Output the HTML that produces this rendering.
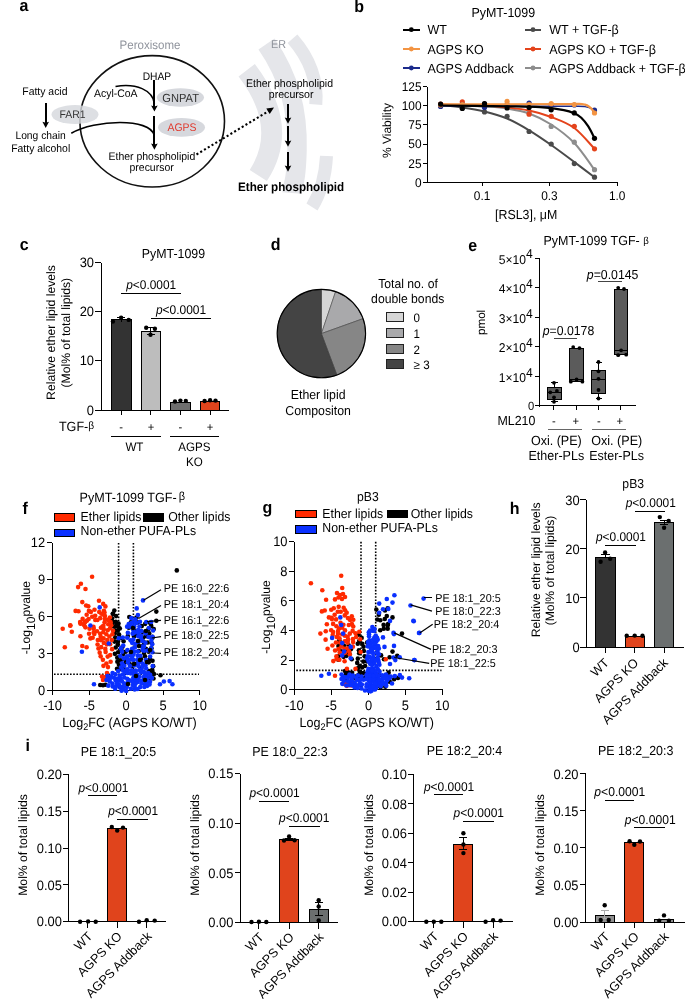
<!DOCTYPE html>
<html><head><meta charset="utf-8"><style>
html,body{margin:0;padding:0;background:#fff;}
svg{display:block;text-rendering:geometricPrecision;will-change:transform;font-family:"Liberation Sans",sans-serif;}
</style></head><body>
<svg width="685" height="999" viewBox="0 0 685 999">
<rect width="685" height="999" fill="#fff"/>
<text transform="translate(19.50,10.90) scale(1,1.06)" font-size="16.00" font-weight="bold">a</text>
<path d="M246.7,70.3 Q290,127 258.3,175.5" fill="none" stroke="#e5e6ea" stroke-width="20.5"/>
<path d="M266.5,44 C290,78 298,112 297,150 S 293,180 292,193" fill="none" stroke="#e5e6ea" stroke-width="19.5"/>
<path d="M292.5,38.7 Q318.8,68.7 315.8,104.5" fill="none" stroke="#e5e6ea" stroke-width="13"/>
<path d="M326.5,156 Q325,186 312,207" fill="none" stroke="#e5e6ea" stroke-width="13"/>
<text transform="translate(271.00,47.59) scale(1,1.06)" font-size="10.80" fill="#8f939c">ER</text>
<text transform="translate(119.60,48.65) scale(1,1.06)" font-size="11.52" fill="#8f939c">Peroxisome</text>
<ellipse cx="152.2" cy="121.3" rx="72.3" ry="65.7" fill="none" stroke="#111" stroke-width="1.6"/>
<ellipse cx="75" cy="114.5" rx="23.5" ry="9.5" fill="#d6d8dd" fill-opacity="0.82"/>
<ellipse cx="180.4" cy="97.5" rx="23.6" ry="9.2" fill="#d6d8dd"/>
<ellipse cx="181.5" cy="127.4" rx="23.5" ry="9.4" fill="#d6d8dd"/>
<text transform="translate(59.50,117.96) scale(1,1.06)" font-size="10.44" fill="#333">FAR1</text>
<text transform="translate(162.30,101.61) scale(1,1.06)" font-size="11.13" fill="#333">GNPAT</text>
<text transform="translate(167.50,131.06) scale(1,1.06)" font-size="10.44" fill="#e03a2e">AGPS</text>
<text transform="translate(142.70,79.69) scale(1,1.06)" font-size="10.26">DHAP</text>
<text transform="translate(94.00,97.16) scale(1,1.06)" font-size="10.44">Acyl-CoA</text>
<text transform="translate(22.30,95.15) scale(1,1.06)" font-size="10.43">Fatty acid</text>
<text transform="translate(15.40,139.21) scale(1,1.06)" font-size="10.30">Long chain</text>
<text transform="translate(11.20,151.75) scale(1,1.06)" font-size="10.41">Fatty alcohol</text>
<text transform="translate(108.50,159.77) scale(1,1.06)" font-size="10.48">Ether phospholipid</text>
<text transform="translate(129.50,171.22) scale(1,1.06)" font-size="10.47">precursor</text>
<line x1="45.70" y1="103.00" x2="45.70" y2="123.30" stroke="#000" stroke-width="1.85" shape-rendering="crispEdges"/>
<path d="M42.40,121.80 L45.70,122.80 L49.00,121.80 L45.70,128.00 Z" fill="#000" stroke="none" stroke-width="1.0"/>
<line x1="154.40" y1="80.00" x2="154.40" y2="106.90" stroke="#000" stroke-width="1.85" shape-rendering="crispEdges"/>
<path d="M151.10,105.40 L154.40,106.40 L157.70,105.40 L154.40,111.60 Z" fill="#000" stroke="none" stroke-width="1.0"/>
<line x1="154.40" y1="116.00" x2="154.40" y2="145.00" stroke="#000" stroke-width="1.85" shape-rendering="crispEdges"/>
<path d="M151.10,143.50 L154.40,144.50 L157.70,143.50 L154.40,149.70 Z" fill="#000" stroke="none" stroke-width="1.0"/>
<path d="M115.5,86.5 C136,83 153,90 154.4,104" fill="none" stroke="#000" stroke-width="1.5"/>
<path d="M71.3,133.3 C95,119.5 150,117.5 154.4,135.5" fill="none" stroke="#000" stroke-width="1.6"/>
<line x1="196.50" y1="154.50" x2="268.50" y2="111.20" stroke="#000" stroke-width="2.1" stroke-dasharray="2.1,2.3"/>
<path d="M274,107.6 L269.72,114.05 L266.30,108.40 Z" fill="#000" stroke="none" stroke-width="1.0"/>
<text transform="translate(246.00,86.78) scale(1,1.06)" font-size="10.50">Ether phospholipid</text>
<text transform="translate(268.80,97.75) scale(1,1.06)" font-size="10.58">precursor</text>
<line x1="288.00" y1="103.70" x2="288.00" y2="119.10" stroke="#000" stroke-width="1.85" shape-rendering="crispEdges"/>
<path d="M284.70,117.60 L288.00,118.60 L291.30,117.60 L288.00,123.80 Z" fill="#000" stroke="none" stroke-width="1.0"/>
<line x1="288.00" y1="126.40" x2="288.00" y2="142.10" stroke="#000" stroke-width="1.85" shape-rendering="crispEdges"/>
<path d="M284.70,140.60 L288.00,141.60 L291.30,140.60 L288.00,146.80 Z" fill="#000" stroke="none" stroke-width="1.0"/>
<line x1="288.00" y1="152.00" x2="288.00" y2="167.10" stroke="#000" stroke-width="1.85" shape-rendering="crispEdges"/>
<path d="M284.70,165.60 L288.00,166.60 L291.30,165.60 L288.00,171.80 Z" fill="#000" stroke="none" stroke-width="1.0"/>
<text transform="translate(238.00,190.70) scale(1,1.06)" font-size="11.67" font-weight="bold">Ether phospholipid</text>
<text transform="translate(354.30,11.80) scale(1,1.06)" font-size="16.00" font-weight="bold">b</text>
<text transform="translate(471.40,17.49) scale(1,1.06)" font-size="12.48">PyMT-1099</text>
<line x1="403.00" y1="29.70" x2="419.60" y2="29.70" stroke="#000000" stroke-width="2.2" shape-rendering="crispEdges"/>
<circle cx="411.30" cy="29.70" r="2.4" fill="#000000"/>
<text transform="translate(427.50,34.20) scale(1,1.06)" font-size="12.50">WT</text>
<line x1="403.00" y1="49.00" x2="419.60" y2="49.00" stroke="#f39443" stroke-width="2.2" shape-rendering="crispEdges"/>
<circle cx="411.30" cy="49.00" r="2.4" fill="#f39443"/>
<text transform="translate(427.50,53.50) scale(1,1.06)" font-size="12.50">AGPS KO</text>
<line x1="403.00" y1="68.00" x2="419.60" y2="68.00" stroke="#1b2b8c" stroke-width="2.2" shape-rendering="crispEdges"/>
<circle cx="411.30" cy="68.00" r="2.4" fill="#1b2b8c"/>
<text transform="translate(427.50,72.50) scale(1,1.06)" font-size="12.50">AGPS Addback</text>
<line x1="524.70" y1="29.70" x2="541.30" y2="29.70" stroke="#4a4a4a" stroke-width="2.2" shape-rendering="crispEdges"/>
<circle cx="533.00" cy="29.70" r="2.4" fill="#4a4a4a"/>
<text transform="translate(549.20,34.20) scale(1,1.06)" font-size="12.50">WT + TGF-β</text>
<line x1="524.70" y1="49.00" x2="541.30" y2="49.00" stroke="#e4431b" stroke-width="2.2" shape-rendering="crispEdges"/>
<circle cx="533.00" cy="49.00" r="2.4" fill="#e4431b"/>
<text transform="translate(549.20,53.50) scale(1,1.06)" font-size="12.50">AGPS KO + TGF-β</text>
<line x1="524.70" y1="68.00" x2="541.30" y2="68.00" stroke="#8d8d8d" stroke-width="2.2" shape-rendering="crispEdges"/>
<circle cx="533.00" cy="68.00" r="2.4" fill="#8d8d8d"/>
<text transform="translate(549.20,72.50) scale(1,1.06)" font-size="12.50">AGPS Addback + TGF-β</text>
<line x1="427.20" y1="86.70" x2="427.20" y2="182.90" stroke="#000" stroke-width="1.0" shape-rendering="crispEdges"/>
<line x1="426.60" y1="182.40" x2="617.80" y2="182.40" stroke="#000" stroke-width="1.0" shape-rendering="crispEdges"/>
<line x1="423.20" y1="182.40" x2="427.20" y2="182.40" stroke="#000" stroke-width="1.0" shape-rendering="crispEdges"/>
<text transform="translate(421.60,186.68) scale(1,1.06)" font-size="11.90" text-anchor="end">0</text>
<line x1="423.20" y1="163.26" x2="427.20" y2="163.26" stroke="#000" stroke-width="1.0" shape-rendering="crispEdges"/>
<text transform="translate(421.60,167.54) scale(1,1.06)" font-size="11.90" text-anchor="end">25</text>
<line x1="423.20" y1="144.12" x2="427.20" y2="144.12" stroke="#000" stroke-width="1.0" shape-rendering="crispEdges"/>
<text transform="translate(421.60,148.40) scale(1,1.06)" font-size="11.90" text-anchor="end">50</text>
<line x1="423.20" y1="124.98" x2="427.20" y2="124.98" stroke="#000" stroke-width="1.0" shape-rendering="crispEdges"/>
<text transform="translate(421.60,129.26) scale(1,1.06)" font-size="11.90" text-anchor="end">75</text>
<line x1="423.20" y1="105.84" x2="427.20" y2="105.84" stroke="#000" stroke-width="1.0" shape-rendering="crispEdges"/>
<text transform="translate(421.60,110.12) scale(1,1.06)" font-size="11.90" text-anchor="end">100</text>
<line x1="423.20" y1="86.70" x2="427.20" y2="86.70" stroke="#000" stroke-width="1.0" shape-rendering="crispEdges"/>
<text transform="translate(421.60,90.98) scale(1,1.06)" font-size="11.90" text-anchor="end">125</text>
<line x1="482.10" y1="182.40" x2="482.10" y2="185.90" stroke="#000" stroke-width="1.0" shape-rendering="crispEdges"/>
<text transform="translate(482.10,199.58) scale(1,1.06)" font-size="11.90" text-anchor="middle">0.1</text>
<line x1="549.40" y1="182.40" x2="549.40" y2="185.90" stroke="#000" stroke-width="1.0" shape-rendering="crispEdges"/>
<text transform="translate(549.40,199.58) scale(1,1.06)" font-size="11.90" text-anchor="middle">0.3</text>
<line x1="617.20" y1="182.40" x2="617.20" y2="185.90" stroke="#000" stroke-width="1.0" shape-rendering="crispEdges"/>
<text transform="translate(617.20,199.58) scale(1,1.06)" font-size="11.90" text-anchor="middle">1.0</text>
<text x="0.00" y="0.00" font-size="12.00" text-anchor="middle" transform="translate(390.6,130.5) rotate(-90)">% Viability</text>
<path d="M440.6,104.5 C447.9,104.8 473.4,105.8 484.5,106.5 C495.6,107.2 499.7,107.3 507.1,108.5 C514.5,109.7 521.8,110.8 529.1,113.5 C536.5,116.2 543.7,119.6 551.2,124.5 C558.7,129.4 567.1,135.5 574.3,143.0 C581.5,150.5 591.1,165.2 594.5,169.7" fill="none" stroke="#8d8d8d" stroke-width="2.0" stroke-linecap="round"/>
<circle cx="440.60" cy="104.50" r="2.6" fill="#8d8d8d"/>
<circle cx="462.30" cy="105.50" r="2.6" fill="#8d8d8d"/>
<circle cx="484.50" cy="103.50" r="2.6" fill="#8d8d8d"/>
<circle cx="507.10" cy="106.00" r="2.6" fill="#8d8d8d"/>
<circle cx="529.10" cy="112.40" r="2.6" fill="#8d8d8d"/>
<circle cx="551.20" cy="126.40" r="2.6" fill="#8d8d8d"/>
<circle cx="574.30" cy="142.20" r="2.6" fill="#8d8d8d"/>
<circle cx="594.50" cy="169.70" r="2.6" fill="#8d8d8d"/>
<path d="M440.6,105.0 C444.2,105.4 455.0,106.3 462.3,107.4 C469.6,108.5 477.0,109.7 484.5,111.5 C492.0,113.3 499.7,115.4 507.1,118.5 C514.5,121.6 521.8,125.9 529.1,130.3 C536.5,134.7 543.7,139.7 551.2,145.0 C558.7,150.3 567.1,156.6 574.3,162.0 C581.5,167.4 591.1,174.7 594.5,177.2" fill="none" stroke="#4a4a4a" stroke-width="2.0" stroke-linecap="round"/>
<circle cx="440.60" cy="105.00" r="2.6" fill="#4a4a4a"/>
<circle cx="462.30" cy="108.00" r="2.6" fill="#4a4a4a"/>
<circle cx="484.50" cy="111.90" r="2.6" fill="#4a4a4a"/>
<circle cx="507.10" cy="116.30" r="2.6" fill="#4a4a4a"/>
<circle cx="529.10" cy="131.50" r="2.6" fill="#4a4a4a"/>
<circle cx="551.20" cy="144.00" r="2.6" fill="#4a4a4a"/>
<circle cx="574.30" cy="163.60" r="2.6" fill="#4a4a4a"/>
<circle cx="594.50" cy="177.20" r="2.6" fill="#4a4a4a"/>
<path d="M440.6,104.8 C447.9,104.9 473.4,105.0 484.5,105.5 C495.6,106.0 499.7,106.7 507.1,107.5 C514.5,108.3 521.8,108.9 529.1,110.5 C536.5,112.1 543.7,114.1 551.2,117.0 C558.7,119.9 567.1,122.7 574.3,128.0 C581.5,133.3 591.1,145.3 594.5,148.8" fill="none" stroke="#e4431b" stroke-width="2.0" stroke-linecap="round"/>
<circle cx="440.60" cy="104.00" r="2.6" fill="#e4431b"/>
<circle cx="462.30" cy="101.80" r="2.6" fill="#e4431b"/>
<circle cx="484.50" cy="104.50" r="2.6" fill="#e4431b"/>
<circle cx="507.10" cy="106.50" r="2.6" fill="#e4431b"/>
<circle cx="529.10" cy="114.20" r="2.6" fill="#e4431b"/>
<circle cx="551.20" cy="116.30" r="2.6" fill="#e4431b"/>
<circle cx="574.30" cy="126.30" r="2.6" fill="#e4431b"/>
<circle cx="594.50" cy="148.80" r="2.6" fill="#e4431b"/>
<path d="M440.6,106.0 C460.5,106.0 535.9,106.2 560.0,106.3 C584.1,106.4 579.2,106.0 585.0,106.6 C590.8,107.2 592.9,109.5 594.5,110.1" fill="none" stroke="#1b2b8c" stroke-width="1.4" stroke-linecap="round"/>
<circle cx="440.60" cy="106.50" r="2.6" fill="#1b2b8c"/>
<circle cx="462.30" cy="104.50" r="2.6" fill="#1b2b8c"/>
<circle cx="484.50" cy="107.50" r="2.6" fill="#1b2b8c"/>
<circle cx="507.10" cy="104.50" r="2.6" fill="#1b2b8c"/>
<circle cx="529.10" cy="103.00" r="2.6" fill="#1b2b8c"/>
<circle cx="551.20" cy="104.50" r="2.6" fill="#1b2b8c"/>
<circle cx="574.30" cy="105.00" r="2.6" fill="#1b2b8c"/>
<circle cx="594.50" cy="110.10" r="2.6" fill="#1b2b8c"/>
<path d="M440.6,104.3 C460.5,104.3 535.9,104.2 560.0,104.2 C584.1,104.2 579.2,103.2 585.0,104.6 C590.8,106.0 592.9,111.1 594.5,112.4" fill="none" stroke="#f39443" stroke-width="2.2" stroke-linecap="round"/>
<circle cx="440.60" cy="105.00" r="2.6" fill="#f39443"/>
<circle cx="462.30" cy="104.50" r="2.6" fill="#f39443"/>
<circle cx="484.50" cy="104.50" r="2.6" fill="#f39443"/>
<circle cx="507.10" cy="101.40" r="2.6" fill="#f39443"/>
<circle cx="529.10" cy="104.50" r="2.6" fill="#f39443"/>
<circle cx="551.20" cy="103.70" r="2.6" fill="#f39443"/>
<circle cx="574.30" cy="104.50" r="2.6" fill="#f39443"/>
<circle cx="594.50" cy="113.00" r="2.6" fill="#f39443"/>
<path d="M440.6,105.5 C451.7,105.6 490.5,106.0 507.1,106.3 C523.7,106.6 530.5,106.6 540.0,107.2 C549.5,107.8 558.1,109.1 563.8,110.1 C569.5,111.1 571.4,112.0 574.3,113.3 C577.2,114.6 579.0,115.5 581.3,117.7 C583.6,119.9 586.1,123.0 588.3,126.4 C590.5,129.8 593.5,136.3 594.5,138.3" fill="none" stroke="#000000" stroke-width="2.2" stroke-linecap="round"/>
<circle cx="440.60" cy="104.00" r="2.6" fill="#000000"/>
<circle cx="462.30" cy="108.40" r="2.6" fill="#000000"/>
<circle cx="484.50" cy="103.50" r="2.6" fill="#000000"/>
<circle cx="507.10" cy="108.00" r="2.6" fill="#000000"/>
<circle cx="529.10" cy="107.50" r="2.6" fill="#000000"/>
<circle cx="551.20" cy="109.80" r="2.6" fill="#000000"/>
<circle cx="574.30" cy="112.90" r="2.6" fill="#000000"/>
<circle cx="594.50" cy="138.30" r="2.6" fill="#000000"/>
<text transform="translate(19.80,250.20) scale(1,1.06)" font-size="16.00" font-weight="bold">c</text>
<text transform="translate(141.80,258.16) scale(1,1.06)" font-size="12.40">PyMT-1099</text>
<line x1="101.00" y1="262.50" x2="101.00" y2="410.60" stroke="#000" stroke-width="1.0" shape-rendering="crispEdges"/>
<line x1="96.60" y1="410.00" x2="228.80" y2="410.00" stroke="#000" stroke-width="1.0" shape-rendering="crispEdges"/>
<line x1="95.40" y1="410.00" x2="101.00" y2="410.00" stroke="#000" stroke-width="1.0" shape-rendering="crispEdges"/>
<text transform="translate(94.00,414.64) scale(1,1.06)" font-size="12.90" text-anchor="end">0</text>
<line x1="95.40" y1="360.83" x2="101.00" y2="360.83" stroke="#000" stroke-width="1.0" shape-rendering="crispEdges"/>
<text transform="translate(94.00,365.48) scale(1,1.06)" font-size="12.90" text-anchor="end">10</text>
<line x1="95.40" y1="311.67" x2="101.00" y2="311.67" stroke="#000" stroke-width="1.0" shape-rendering="crispEdges"/>
<text transform="translate(94.00,316.31) scale(1,1.06)" font-size="12.90" text-anchor="end">20</text>
<line x1="95.40" y1="262.50" x2="101.00" y2="262.50" stroke="#000" stroke-width="1.0" shape-rendering="crispEdges"/>
<text transform="translate(94.00,267.14) scale(1,1.06)" font-size="12.90" text-anchor="end">30</text>
<rect x="111.30" y="319.70" width="19.70" height="90.30" fill="#333333" stroke="#000" stroke-width="1" shape-rendering="crispEdges"/>
<rect x="141.30" y="331.00" width="19.30" height="79.00" fill="#bdbdbd" stroke="#000" stroke-width="1" shape-rendering="crispEdges"/>
<rect x="170.70" y="402.00" width="19.30" height="8.00" fill="#6e6e6e" stroke="#000" stroke-width="1" shape-rendering="crispEdges"/>
<rect x="200.20" y="401.60" width="19.20" height="8.40" fill="#e0441c" stroke="#000" stroke-width="1" shape-rendering="crispEdges"/>
<line x1="121.20" y1="410.00" x2="121.20" y2="415.00" stroke="#000" stroke-width="1.0" shape-rendering="crispEdges"/>
<line x1="150.90" y1="410.00" x2="150.90" y2="415.00" stroke="#000" stroke-width="1.0" shape-rendering="crispEdges"/>
<line x1="180.40" y1="410.00" x2="180.40" y2="415.00" stroke="#000" stroke-width="1.0" shape-rendering="crispEdges"/>
<line x1="210.10" y1="410.00" x2="210.10" y2="415.00" stroke="#000" stroke-width="1.0" shape-rendering="crispEdges"/>
<line x1="121.10" y1="317.60" x2="121.10" y2="321.60" stroke="#000" stroke-width="1.0" shape-rendering="crispEdges"/>
<line x1="117.30" y1="317.60" x2="125.10" y2="317.60" stroke="#000" stroke-width="1.0" shape-rendering="crispEdges"/>
<circle cx="112.90" cy="321.60" r="2.2" fill="#000"/>
<circle cx="121.10" cy="317.60" r="2.2" fill="#000"/>
<circle cx="128.70" cy="319.90" r="2.2" fill="#000"/>
<line x1="150.50" y1="327.40" x2="150.50" y2="334.40" stroke="#000" stroke-width="1.0" shape-rendering="crispEdges"/>
<line x1="146.50" y1="327.40" x2="154.50" y2="327.40" stroke="#000" stroke-width="1.0" shape-rendering="crispEdges"/>
<line x1="146.50" y1="334.40" x2="154.50" y2="334.40" stroke="#000" stroke-width="1.0" shape-rendering="crispEdges"/>
<circle cx="146.20" cy="327.80" r="2.2" fill="#000"/>
<circle cx="154.90" cy="328.70" r="2.2" fill="#000"/>
<circle cx="150.50" cy="334.80" r="2.2" fill="#000"/>
<circle cx="175.00" cy="401.50" r="2.2" fill="#000"/>
<circle cx="180.40" cy="400.60" r="2.2" fill="#000"/>
<circle cx="185.80" cy="400.90" r="2.2" fill="#000"/>
<circle cx="204.60" cy="401.00" r="2.2" fill="#000"/>
<circle cx="210.10" cy="400.20" r="2.2" fill="#000"/>
<circle cx="215.50" cy="400.60" r="2.2" fill="#000"/>
<line x1="120.50" y1="293.40" x2="181.00" y2="293.40" stroke="#000" stroke-width="1.0" shape-rendering="crispEdges"/>
<line x1="150.60" y1="318.80" x2="211.00" y2="318.80" stroke="#000" stroke-width="1.0" shape-rendering="crispEdges"/>
<text transform="translate(126.20,289.30) scale(1,1.06)" font-size="11.91"><tspan font-style="italic">p</tspan>&lt;0.0001</text>
<text transform="translate(155.90,314.40) scale(1,1.06)" font-size="11.98"><tspan font-style="italic">p</tspan>&lt;0.0001</text>
<text transform="translate(58.9,431.3) scale(1,1.06)" font-size="12.6">TGF-<tspan font-size="10.2" dy="-2">β</tspan></text>
<text transform="translate(121.20,430.63) scale(1,1.06)" font-size="11.20" text-anchor="middle">-</text>
<text transform="translate(150.90,430.63) scale(1,1.06)" font-size="11.20" text-anchor="middle">+</text>
<text transform="translate(180.40,430.63) scale(1,1.06)" font-size="11.20" text-anchor="middle">-</text>
<text transform="translate(210.10,430.63) scale(1,1.06)" font-size="11.20" text-anchor="middle">+</text>
<line x1="111.20" y1="436.80" x2="160.70" y2="436.80" stroke="#000" stroke-width="1.0" shape-rendering="crispEdges"/>
<line x1="170.00" y1="436.80" x2="218.80" y2="436.80" stroke="#000" stroke-width="1.0" shape-rendering="crispEdges"/>
<text transform="translate(134.40,450.98) scale(1,1.06)" font-size="11.60" text-anchor="middle">WT</text>
<text transform="translate(194.40,450.98) scale(1,1.06)" font-size="11.60" text-anchor="middle">AGPS</text>
<text transform="translate(194.40,466.08) scale(1,1.06)" font-size="11.60" text-anchor="middle">KO</text>
<text x="0" y="0" font-size="12.20" text-anchor="middle" transform="translate(55.00,332.50) rotate(-90)">Relative ether lipid levels</text>
<text x="0" y="0" font-size="12.20" text-anchor="middle" transform="translate(70.10,332.70) rotate(-90)">(Mol% of total lipids)</text>
<text transform="translate(270.70,250.30) scale(1,1.06)" font-size="16.00" font-weight="bold">d</text>
<path d="M321.4,333.6 L321.40,289.40 A44.2,44.2 0 0 1 335.57,291.73 Z" fill="#d6d6d6" stroke="#333" stroke-width="0.5"/>
<path d="M321.4,333.6 L335.57,291.73 A44.2,44.2 0 0 1 363.01,318.70 Z" fill="#a9a9ab" stroke="#333" stroke-width="0.5"/>
<path d="M321.4,333.6 L363.01,318.70 A44.2,44.2 0 0 1 336.88,375.00 Z" fill="#868686" stroke="#333" stroke-width="0.5"/>
<path d="M321.4,333.6 L336.88,375.00 A44.2,44.2 0 1 1 321.40,289.40 Z" fill="#444444" stroke="#333" stroke-width="0.5"/>
<circle cx="321.4" cy="333.6" r="44.2" fill="none" stroke="#000" stroke-width="1.1"/>
<text transform="translate(408.00,287.89) scale(1,1.06)" font-size="12.20" text-anchor="middle">Total no. of</text>
<text transform="translate(407.70,303.29) scale(1,1.06)" font-size="12.20" text-anchor="middle">double bonds</text>
<rect x="386.60" y="312.40" width="17.00" height="9.00" fill="#d6d6d6" stroke="#222" stroke-width="1" shape-rendering="crispEdges"/>
<text transform="translate(413.60,321.58) scale(1,1.06)" font-size="11.60">0</text>
<rect x="386.60" y="328.40" width="17.00" height="9.00" fill="#a9a9ab" stroke="#222" stroke-width="1" shape-rendering="crispEdges"/>
<text transform="translate(413.60,337.58) scale(1,1.06)" font-size="11.60">1</text>
<rect x="386.60" y="344.50" width="17.00" height="9.00" fill="#868686" stroke="#222" stroke-width="1" shape-rendering="crispEdges"/>
<text transform="translate(413.60,353.68) scale(1,1.06)" font-size="11.60">2</text>
<rect x="386.60" y="359.60" width="17.00" height="9.00" fill="#444444" stroke="#222" stroke-width="1" shape-rendering="crispEdges"/>
<text transform="translate(413.60,368.78) scale(1,1.06)" font-size="11.60">≥ 3</text>
<text transform="translate(290.80,399.03) scale(1,1.06)" font-size="12.30">Ether lipid</text>
<text transform="translate(285.30,414.83) scale(1,1.06)" font-size="12.31">Compositon</text>
<text transform="translate(468.30,250.60) scale(1,1.06)" font-size="16.00" font-weight="bold">e</text>
<text transform="translate(543.4,245.3) scale(1,1.06)" font-size="12.5">PyMT-1099 TGF- <tspan font-size="9.6" dy="-1.5">β</tspan></text>
<line x1="539.00" y1="258.10" x2="539.00" y2="406.50" stroke="#000" stroke-width="1.0" shape-rendering="crispEdges"/>
<line x1="534.60" y1="405.90" x2="635.80" y2="405.90" stroke="#000" stroke-width="1.0" shape-rendering="crispEdges"/>
<line x1="534.60" y1="405.90" x2="539.00" y2="405.90" stroke="#000" stroke-width="1.0" shape-rendering="crispEdges"/>
<text transform="translate(534.30,409.93) scale(1,1.06)" font-size="11.20" text-anchor="end">0</text>
<line x1="534.60" y1="376.34" x2="539.00" y2="376.34" stroke="#000" stroke-width="1.0" shape-rendering="crispEdges"/>
<text transform="translate(532.8,381.74) scale(1,1.06)" font-size="12.1" text-anchor="end">1×10<tspan dy="-4.8">4</tspan></text>
<line x1="534.60" y1="346.78" x2="539.00" y2="346.78" stroke="#000" stroke-width="1.0" shape-rendering="crispEdges"/>
<text transform="translate(532.8,352.18) scale(1,1.06)" font-size="12.1" text-anchor="end">2×10<tspan dy="-4.8">4</tspan></text>
<line x1="534.60" y1="317.22" x2="539.00" y2="317.22" stroke="#000" stroke-width="1.0" shape-rendering="crispEdges"/>
<text transform="translate(532.8,322.62) scale(1,1.06)" font-size="12.1" text-anchor="end">3×10<tspan dy="-4.8">4</tspan></text>
<line x1="534.60" y1="287.66" x2="539.00" y2="287.66" stroke="#000" stroke-width="1.0" shape-rendering="crispEdges"/>
<text transform="translate(532.8,293.06) scale(1,1.06)" font-size="12.1" text-anchor="end">4×10<tspan dy="-4.8">4</tspan></text>
<line x1="534.60" y1="258.10" x2="539.00" y2="258.10" stroke="#000" stroke-width="1.0" shape-rendering="crispEdges"/>
<text transform="translate(532.8,263.50) scale(1,1.06)" font-size="12.1" text-anchor="end">5×10<tspan dy="-4.8">4</tspan></text>
<text x="0" y="0" font-size="11.60" text-anchor="middle" transform="translate(485.38,322.40) rotate(-90)">pmol</text>
<line x1="553.50" y1="405.90" x2="553.50" y2="409.90" stroke="#000" stroke-width="1.0" shape-rendering="crispEdges"/>
<line x1="576.30" y1="405.90" x2="576.30" y2="409.90" stroke="#000" stroke-width="1.0" shape-rendering="crispEdges"/>
<line x1="598.50" y1="405.90" x2="598.50" y2="409.90" stroke="#000" stroke-width="1.0" shape-rendering="crispEdges"/>
<line x1="620.80" y1="405.90" x2="620.80" y2="409.90" stroke="#000" stroke-width="1.0" shape-rendering="crispEdges"/>
<line x1="554.20" y1="382.80" x2="554.20" y2="387.50" stroke="#000" stroke-width="1.0" shape-rendering="crispEdges"/>
<line x1="550.90" y1="382.80" x2="557.50" y2="382.80" stroke="#000" stroke-width="1.0" shape-rendering="crispEdges"/>
<line x1="554.20" y1="399.20" x2="554.20" y2="401.80" stroke="#000" stroke-width="1.0" shape-rendering="crispEdges"/>
<line x1="550.90" y1="401.80" x2="557.50" y2="401.80" stroke="#000" stroke-width="1.0" shape-rendering="crispEdges"/>
<rect x="547.40" y="387.50" width="13.60" height="11.70" fill="#5b5b5b" stroke="#000" stroke-width="1" shape-rendering="crispEdges"/>
<line x1="547.40" y1="392.60" x2="561.00" y2="392.60" stroke="#000" stroke-width="1.0" shape-rendering="crispEdges"/>
<circle cx="550.30" cy="392.30" r="1.9" fill="#000"/>
<circle cx="556.90" cy="390.90" r="1.9" fill="#000"/>
<circle cx="554.00" cy="397.30" r="1.9" fill="#000"/>
<circle cx="554.00" cy="382.80" r="1.9" fill="#000"/>
<circle cx="554.00" cy="401.80" r="1.9" fill="#000"/>
<rect x="569.60" y="348.10" width="13.90" height="33.60" fill="#5b5b5b" stroke="#000" stroke-width="1" shape-rendering="crispEdges"/>
<line x1="569.60" y1="379.50" x2="583.50" y2="379.50" stroke="#000" stroke-width="1.0" shape-rendering="crispEdges"/>
<circle cx="573.20" cy="347.10" r="1.9" fill="#000"/>
<circle cx="579.50" cy="348.10" r="1.9" fill="#000"/>
<circle cx="570.80" cy="381.70" r="1.9" fill="#000"/>
<circle cx="576.60" cy="379.50" r="1.9" fill="#000"/>
<circle cx="582.40" cy="381.70" r="1.9" fill="#000"/>
<line x1="598.85" y1="362.00" x2="598.85" y2="370.10" stroke="#000" stroke-width="1.0" shape-rendering="crispEdges"/>
<line x1="595.55" y1="362.00" x2="602.15" y2="362.00" stroke="#000" stroke-width="1.0" shape-rendering="crispEdges"/>
<line x1="598.85" y1="393.80" x2="598.85" y2="398.50" stroke="#000" stroke-width="1.0" shape-rendering="crispEdges"/>
<line x1="595.55" y1="398.50" x2="602.15" y2="398.50" stroke="#000" stroke-width="1.0" shape-rendering="crispEdges"/>
<rect x="591.90" y="370.10" width="13.90" height="23.70" fill="#5b5b5b" stroke="#000" stroke-width="1" shape-rendering="crispEdges"/>
<line x1="591.90" y1="379.20" x2="605.80" y2="379.20" stroke="#000" stroke-width="1.0" shape-rendering="crispEdges"/>
<circle cx="598.50" cy="362.00" r="1.9" fill="#000"/>
<circle cx="598.50" cy="371.30" r="1.9" fill="#000"/>
<circle cx="598.50" cy="378.80" r="1.9" fill="#000"/>
<circle cx="598.50" cy="390.00" r="1.9" fill="#000"/>
<circle cx="598.50" cy="398.50" r="1.9" fill="#000"/>
<rect x="614.60" y="289.00" width="13.10" height="65.70" fill="#5b5b5b" stroke="#000" stroke-width="1" shape-rendering="crispEdges"/>
<line x1="614.60" y1="350.30" x2="627.70" y2="350.30" stroke="#000" stroke-width="1.0" shape-rendering="crispEdges"/>
<circle cx="618.20" cy="287.80" r="1.9" fill="#000"/>
<circle cx="624.00" cy="289.00" r="1.9" fill="#000"/>
<circle cx="618.20" cy="355.20" r="1.9" fill="#000"/>
<circle cx="621.10" cy="350.30" r="1.9" fill="#000"/>
<circle cx="626.20" cy="354.70" r="1.9" fill="#000"/>
<line x1="554.00" y1="338.60" x2="577.30" y2="338.60" stroke="#444" stroke-width="1.0" shape-rendering="crispEdges"/>
<line x1="598.00" y1="281.70" x2="622.30" y2="281.70" stroke="#444" stroke-width="1.0" shape-rendering="crispEdges"/>
<text transform="translate(542.70,335.20) scale(1,1.06)" font-size="12.27"><tspan font-style="italic">p</tspan>=0.0178</text>
<text transform="translate(586.80,278.90) scale(1,1.06)" font-size="12.31"><tspan font-style="italic">p</tspan>=0.0145</text>
<text transform="translate(495.10,218.56) scale(1,1.06)" font-size="12.39">[RSL3], μM</text>
<text transform="translate(497.40,425.37) scale(1,1.06)" font-size="12.43">ML210</text>
<text transform="translate(553.90,424.93) scale(1,1.06)" font-size="11.20" text-anchor="middle">-</text>
<text transform="translate(575.80,424.93) scale(1,1.06)" font-size="11.20" text-anchor="middle">+</text>
<text transform="translate(598.80,424.93) scale(1,1.06)" font-size="11.20" text-anchor="middle">-</text>
<text transform="translate(619.80,424.93) scale(1,1.06)" font-size="11.20" text-anchor="middle">+</text>
<line x1="548.20" y1="429.30" x2="582.40" y2="429.30" stroke="#666" stroke-width="1.0" shape-rendering="crispEdges"/>
<line x1="592.20" y1="429.30" x2="626.10" y2="429.30" stroke="#666" stroke-width="1.0" shape-rendering="crispEdges"/>
<text transform="translate(530.90,444.82) scale(1,1.06)" font-size="12.55">Oxi. (PE)</text>
<text transform="translate(528.50,459.81) scale(1,1.06)" font-size="12.53">Ether-PLs</text>
<text transform="translate(591.30,444.82) scale(1,1.06)" font-size="12.55">Oxi. (PE)</text>
<text transform="translate(589.20,459.79) scale(1,1.06)" font-size="12.48">Ester-PLs</text>
<text transform="translate(509.70,513.60) scale(1,1.06)" font-size="16.00" font-weight="bold">h</text>
<text transform="translate(633.20,487.89) scale(1,1.06)" font-size="12.20" text-anchor="middle">pB3</text>
<line x1="586.00" y1="499.90" x2="586.00" y2="647.60" stroke="#000" stroke-width="1.0" shape-rendering="crispEdges"/>
<line x1="581.60" y1="647.00" x2="684.00" y2="647.00" stroke="#000" stroke-width="1.0" shape-rendering="crispEdges"/>
<line x1="580.40" y1="647.00" x2="586.00" y2="647.00" stroke="#000" stroke-width="1.0" shape-rendering="crispEdges"/>
<text transform="translate(579.60,651.64) scale(1,1.06)" font-size="12.90" text-anchor="end">0</text>
<line x1="580.40" y1="597.97" x2="586.00" y2="597.97" stroke="#000" stroke-width="1.0" shape-rendering="crispEdges"/>
<text transform="translate(579.60,602.61) scale(1,1.06)" font-size="12.90" text-anchor="end">10</text>
<line x1="580.40" y1="548.93" x2="586.00" y2="548.93" stroke="#000" stroke-width="1.0" shape-rendering="crispEdges"/>
<text transform="translate(579.60,553.58) scale(1,1.06)" font-size="12.90" text-anchor="end">20</text>
<line x1="580.40" y1="499.90" x2="586.00" y2="499.90" stroke="#000" stroke-width="1.0" shape-rendering="crispEdges"/>
<text transform="translate(579.60,504.54) scale(1,1.06)" font-size="12.90" text-anchor="end">30</text>
<rect x="595.50" y="557.60" width="19.50" height="89.40" fill="#333333" stroke="#000" stroke-width="1" shape-rendering="crispEdges"/>
<rect x="625.30" y="636.50" width="19.20" height="10.50" fill="#e0441c" stroke="#000" stroke-width="1" shape-rendering="crispEdges"/>
<rect x="654.50" y="522.20" width="19.30" height="124.80" fill="#6b6f6f" stroke="#000" stroke-width="1" shape-rendering="crispEdges"/>
<line x1="605.10" y1="647.00" x2="605.10" y2="653.00" stroke="#000" stroke-width="1.0" shape-rendering="crispEdges"/>
<line x1="634.70" y1="647.00" x2="634.70" y2="653.00" stroke="#000" stroke-width="1.0" shape-rendering="crispEdges"/>
<line x1="664.10" y1="647.00" x2="664.10" y2="653.00" stroke="#000" stroke-width="1.0" shape-rendering="crispEdges"/>
<line x1="605.10" y1="554.90" x2="605.10" y2="558.00" stroke="#000" stroke-width="1.0" shape-rendering="crispEdges"/>
<line x1="601.20" y1="554.90" x2="609.70" y2="554.90" stroke="#000" stroke-width="1.0" shape-rendering="crispEdges"/>
<circle cx="605.10" cy="552.50" r="2.2" fill="#000"/>
<circle cx="600.60" cy="561.70" r="2.2" fill="#000"/>
<circle cx="610.20" cy="558.80" r="2.2" fill="#000"/>
<circle cx="626.70" cy="635.80" r="2.2" fill="#000"/>
<circle cx="634.70" cy="635.60" r="2.2" fill="#000"/>
<circle cx="642.50" cy="635.80" r="2.2" fill="#000"/>
<line x1="664.10" y1="520.20" x2="664.10" y2="524.80" stroke="#000" stroke-width="1.0" shape-rendering="crispEdges"/>
<line x1="660.00" y1="520.20" x2="668.20" y2="520.20" stroke="#000" stroke-width="1.0" shape-rendering="crispEdges"/>
<line x1="660.00" y1="524.80" x2="668.20" y2="524.80" stroke="#000" stroke-width="1.0" shape-rendering="crispEdges"/>
<circle cx="659.80" cy="517.10" r="2.2" fill="#000"/>
<circle cx="668.70" cy="521.00" r="2.2" fill="#000"/>
<circle cx="664.10" cy="527.70" r="2.2" fill="#000"/>
<line x1="605.10" y1="545.30" x2="635.70" y2="545.30" stroke="#000" stroke-width="1.0" shape-rendering="crispEdges"/>
<line x1="634.70" y1="511.20" x2="664.90" y2="511.20" stroke="#000" stroke-width="1.0" shape-rendering="crispEdges"/>
<text transform="translate(595.90,541.00) scale(1,1.06)" font-size="11.93"><tspan font-style="italic">p</tspan>&lt;0.0001</text>
<text transform="translate(625.70,507.00) scale(1,1.06)" font-size="11.93"><tspan font-style="italic">p</tspan>&lt;0.0001</text>
<text x="0" y="0" font-size="12.20" text-anchor="middle" transform="translate(540.10,569.80) rotate(-90)">Relative ether lipid levels</text>
<text x="0" y="0" font-size="12.20" text-anchor="middle" transform="translate(554.40,570.50) rotate(-90)">(Mol% of total lipids)</text>
<text x="0" y="0" font-size="12.6" text-anchor="end" transform="translate(609.70,663.50) rotate(-45)">WT</text>
<text x="0" y="0" font-size="12.6" text-anchor="end" transform="translate(639.30,663.50) rotate(-45)">AGPS KO</text>
<text x="0" y="0" font-size="12.6" text-anchor="end" transform="translate(668.70,663.50) rotate(-45)">AGPS Addback</text>
<text transform="translate(25.40,750.50) scale(1,1.06)" font-size="16.00" font-weight="bold">i</text>
<line x1="68.90" y1="774.50" x2="68.90" y2="922.40" stroke="#000" stroke-width="1.0" shape-rendering="crispEdges"/>
<line x1="64.50" y1="921.80" x2="165.70" y2="921.80" stroke="#000" stroke-width="1.0" shape-rendering="crispEdges"/>
<line x1="63.30" y1="921.80" x2="68.90" y2="921.80" stroke="#000" stroke-width="1.0" shape-rendering="crispEdges"/>
<text transform="translate(61.90,926.44) scale(1,1.06)" font-size="12.90" text-anchor="end">0.00</text>
<line x1="63.30" y1="884.97" x2="68.90" y2="884.97" stroke="#000" stroke-width="1.0" shape-rendering="crispEdges"/>
<text transform="translate(61.90,889.62) scale(1,1.06)" font-size="12.90" text-anchor="end">0.05</text>
<line x1="63.30" y1="848.15" x2="68.90" y2="848.15" stroke="#000" stroke-width="1.0" shape-rendering="crispEdges"/>
<text transform="translate(61.90,852.79) scale(1,1.06)" font-size="12.90" text-anchor="end">0.10</text>
<line x1="63.30" y1="811.33" x2="68.90" y2="811.33" stroke="#000" stroke-width="1.0" shape-rendering="crispEdges"/>
<text transform="translate(61.90,815.97) scale(1,1.06)" font-size="12.90" text-anchor="end">0.15</text>
<line x1="63.30" y1="774.50" x2="68.90" y2="774.50" stroke="#000" stroke-width="1.0" shape-rendering="crispEdges"/>
<text transform="translate(61.90,779.14) scale(1,1.06)" font-size="12.90" text-anchor="end">0.20</text>
<rect x="107.80" y="828.90" width="19.00" height="92.90" fill="#e0441c" stroke="#000" stroke-width="1" shape-rendering="crispEdges"/>
<line x1="87.60" y1="921.80" x2="87.60" y2="927.80" stroke="#000" stroke-width="1.0" shape-rendering="crispEdges"/>
<line x1="117.20" y1="921.80" x2="117.20" y2="927.80" stroke="#000" stroke-width="1.0" shape-rendering="crispEdges"/>
<line x1="146.90" y1="921.80" x2="146.90" y2="927.80" stroke="#000" stroke-width="1.0" shape-rendering="crispEdges"/>
<circle cx="80.10" cy="921.70" r="2.2" fill="#000"/>
<circle cx="88.10" cy="921.40" r="2.2" fill="#000"/>
<circle cx="95.70" cy="921.70" r="2.2" fill="#000"/>
<circle cx="111.80" cy="827.00" r="2.2" fill="#000"/>
<circle cx="117.20" cy="830.50" r="2.2" fill="#000"/>
<circle cx="123.00" cy="827.60" r="2.2" fill="#000"/>
<circle cx="139.00" cy="921.70" r="2.2" fill="#000"/>
<circle cx="146.70" cy="920.30" r="2.2" fill="#000"/>
<circle cx="154.70" cy="920.60" r="2.2" fill="#000"/>
<line x1="87.60" y1="795.50" x2="117.20" y2="795.50" stroke="#000" stroke-width="1.0" shape-rendering="crispEdges"/>
<text transform="translate(78.50,791.80) scale(1,1.06)" font-size="11.89"><tspan font-style="italic">p</tspan>&lt;0.0001</text>
<line x1="117.20" y1="819.70" x2="147.70" y2="819.70" stroke="#000" stroke-width="1.0" shape-rendering="crispEdges"/>
<text transform="translate(108.20,815.30) scale(1,1.06)" font-size="11.86"><tspan font-style="italic">p</tspan>&lt;0.0001</text>
<text transform="translate(80.80,756.08) scale(1,1.06)" font-size="12.44">PE 18:1_20:5</text>
<text x="0" y="0" font-size="12.20" text-anchor="middle" transform="translate(27.10,845.00) rotate(-90)">Mol% of total lipids</text>
<text x="0" y="0" font-size="12.6" text-anchor="end" transform="translate(93.10,937.10) rotate(-45)">WT</text>
<text x="0" y="0" font-size="12.6" text-anchor="end" transform="translate(122.70,937.10) rotate(-45)">AGPS KO</text>
<text x="0" y="0" font-size="12.6" text-anchor="end" transform="translate(152.40,937.10) rotate(-45)">AGPS Addback</text>
<line x1="240.30" y1="773.70" x2="240.30" y2="923.10" stroke="#000" stroke-width="1.0" shape-rendering="crispEdges"/>
<line x1="235.90" y1="922.50" x2="338.40" y2="922.50" stroke="#000" stroke-width="1.0" shape-rendering="crispEdges"/>
<line x1="234.70" y1="922.50" x2="240.30" y2="922.50" stroke="#000" stroke-width="1.0" shape-rendering="crispEdges"/>
<text transform="translate(233.30,927.14) scale(1,1.06)" font-size="12.90" text-anchor="end">0.00</text>
<line x1="234.70" y1="872.90" x2="240.30" y2="872.90" stroke="#000" stroke-width="1.0" shape-rendering="crispEdges"/>
<text transform="translate(233.30,877.54) scale(1,1.06)" font-size="12.90" text-anchor="end">0.05</text>
<line x1="234.70" y1="823.30" x2="240.30" y2="823.30" stroke="#000" stroke-width="1.0" shape-rendering="crispEdges"/>
<text transform="translate(233.30,827.94) scale(1,1.06)" font-size="12.90" text-anchor="end">0.10</text>
<line x1="234.70" y1="773.70" x2="240.30" y2="773.70" stroke="#000" stroke-width="1.0" shape-rendering="crispEdges"/>
<text transform="translate(233.30,778.34) scale(1,1.06)" font-size="12.90" text-anchor="end">0.15</text>
<rect x="279.70" y="839.10" width="19.00" height="83.40" fill="#e0441c" stroke="#000" stroke-width="1" shape-rendering="crispEdges"/>
<rect x="309.30" y="909.20" width="19.10" height="13.30" fill="#6b6f6f" stroke="#000" stroke-width="1" shape-rendering="crispEdges"/>
<line x1="258.90" y1="922.50" x2="258.90" y2="928.50" stroke="#000" stroke-width="1.0" shape-rendering="crispEdges"/>
<line x1="289.10" y1="922.50" x2="289.10" y2="928.50" stroke="#000" stroke-width="1.0" shape-rendering="crispEdges"/>
<line x1="318.70" y1="922.50" x2="318.70" y2="928.50" stroke="#000" stroke-width="1.0" shape-rendering="crispEdges"/>
<line x1="318.70" y1="902.50" x2="318.70" y2="915.90" stroke="#000" stroke-width="1.0" shape-rendering="crispEdges"/>
<line x1="314.70" y1="902.50" x2="322.70" y2="902.50" stroke="#000" stroke-width="1.0" shape-rendering="crispEdges"/>
<line x1="314.70" y1="915.90" x2="322.70" y2="915.90" stroke="#000" stroke-width="1.0" shape-rendering="crispEdges"/>
<line x1="289.10" y1="838.00" x2="289.10" y2="840.00" stroke="#000" stroke-width="1.0" shape-rendering="crispEdges"/>
<line x1="285.10" y1="838.00" x2="293.10" y2="838.00" stroke="#000" stroke-width="1.0" shape-rendering="crispEdges"/>
<line x1="285.10" y1="840.00" x2="293.10" y2="840.00" stroke="#000" stroke-width="1.0" shape-rendering="crispEdges"/>
<circle cx="251.50" cy="922.00" r="2.2" fill="#000"/>
<circle cx="258.90" cy="921.70" r="2.2" fill="#000"/>
<circle cx="266.30" cy="922.00" r="2.2" fill="#000"/>
<circle cx="284.00" cy="840.50" r="2.2" fill="#000"/>
<circle cx="289.10" cy="836.50" r="2.2" fill="#000"/>
<circle cx="294.60" cy="840.30" r="2.2" fill="#000"/>
<circle cx="318.70" cy="900.30" r="2.2" fill="#000"/>
<circle cx="318.70" cy="906.50" r="2.2" fill="#000"/>
<circle cx="318.70" cy="920.50" r="2.2" fill="#000"/>
<line x1="258.90" y1="801.40" x2="289.10" y2="801.40" stroke="#000" stroke-width="1.0" shape-rendering="crispEdges"/>
<text transform="translate(249.40,796.70) scale(1,1.06)" font-size="12.00"><tspan font-style="italic">p</tspan>&lt;0.0001</text>
<line x1="289.10" y1="826.20" x2="319.60" y2="826.20" stroke="#000" stroke-width="1.0" shape-rendering="crispEdges"/>
<text transform="translate(279.00,822.00) scale(1,1.06)" font-size="12.00"><tspan font-style="italic">p</tspan>&lt;0.0001</text>
<text transform="translate(252.20,756.08) scale(1,1.06)" font-size="12.44">PE 18:0_22:3</text>
<text x="0" y="0" font-size="12.20" text-anchor="middle" transform="translate(198.50,845.00) rotate(-90)">Mol% of total lipids</text>
<text x="0" y="0" font-size="12.6" text-anchor="end" transform="translate(264.40,937.80) rotate(-45)">WT</text>
<text x="0" y="0" font-size="12.6" text-anchor="end" transform="translate(294.60,937.80) rotate(-45)">AGPS KO</text>
<text x="0" y="0" font-size="12.6" text-anchor="end" transform="translate(324.20,937.80) rotate(-45)">AGPS Addback</text>
<line x1="413.80" y1="774.50" x2="413.80" y2="922.40" stroke="#000" stroke-width="1.0" shape-rendering="crispEdges"/>
<line x1="409.40" y1="921.80" x2="512.50" y2="921.80" stroke="#000" stroke-width="1.0" shape-rendering="crispEdges"/>
<line x1="408.20" y1="921.80" x2="413.80" y2="921.80" stroke="#000" stroke-width="1.0" shape-rendering="crispEdges"/>
<text transform="translate(406.80,926.44) scale(1,1.06)" font-size="12.90" text-anchor="end">0.00</text>
<line x1="408.20" y1="892.34" x2="413.80" y2="892.34" stroke="#000" stroke-width="1.0" shape-rendering="crispEdges"/>
<text transform="translate(406.80,896.98) scale(1,1.06)" font-size="12.90" text-anchor="end">0.02</text>
<line x1="408.20" y1="862.88" x2="413.80" y2="862.88" stroke="#000" stroke-width="1.0" shape-rendering="crispEdges"/>
<text transform="translate(406.80,867.52) scale(1,1.06)" font-size="12.90" text-anchor="end">0.04</text>
<line x1="408.20" y1="833.42" x2="413.80" y2="833.42" stroke="#000" stroke-width="1.0" shape-rendering="crispEdges"/>
<text transform="translate(406.80,838.06) scale(1,1.06)" font-size="12.90" text-anchor="end">0.06</text>
<line x1="408.20" y1="803.96" x2="413.80" y2="803.96" stroke="#000" stroke-width="1.0" shape-rendering="crispEdges"/>
<text transform="translate(406.80,808.60) scale(1,1.06)" font-size="12.90" text-anchor="end">0.08</text>
<line x1="408.20" y1="774.50" x2="413.80" y2="774.50" stroke="#000" stroke-width="1.0" shape-rendering="crispEdges"/>
<text transform="translate(406.80,779.14) scale(1,1.06)" font-size="12.90" text-anchor="end">0.10</text>
<rect x="453.70" y="844.50" width="19.20" height="77.30" fill="#e0441c" stroke="#000" stroke-width="1" shape-rendering="crispEdges"/>
<line x1="433.80" y1="921.80" x2="433.80" y2="927.80" stroke="#000" stroke-width="1.0" shape-rendering="crispEdges"/>
<line x1="463.40" y1="921.80" x2="463.40" y2="927.80" stroke="#000" stroke-width="1.0" shape-rendering="crispEdges"/>
<line x1="493.10" y1="921.80" x2="493.10" y2="927.80" stroke="#000" stroke-width="1.0" shape-rendering="crispEdges"/>
<line x1="463.40" y1="837.80" x2="463.40" y2="849.10" stroke="#000" stroke-width="1.0" shape-rendering="crispEdges"/>
<line x1="459.40" y1="837.80" x2="467.40" y2="837.80" stroke="#000" stroke-width="1.0" shape-rendering="crispEdges"/>
<line x1="459.40" y1="849.10" x2="467.40" y2="849.10" stroke="#000" stroke-width="1.0" shape-rendering="crispEdges"/>
<circle cx="426.30" cy="921.70" r="2.2" fill="#000"/>
<circle cx="433.80" cy="921.70" r="2.2" fill="#000"/>
<circle cx="441.30" cy="921.70" r="2.2" fill="#000"/>
<circle cx="463.40" cy="833.20" r="2.2" fill="#000"/>
<circle cx="463.40" cy="844.50" r="2.2" fill="#000"/>
<circle cx="463.40" cy="853.10" r="2.2" fill="#000"/>
<circle cx="485.60" cy="921.70" r="2.2" fill="#000"/>
<circle cx="493.10" cy="920.30" r="2.2" fill="#000"/>
<circle cx="500.60" cy="920.60" r="2.2" fill="#000"/>
<line x1="433.80" y1="794.70" x2="463.40" y2="794.70" stroke="#000" stroke-width="1.0" shape-rendering="crispEdges"/>
<text transform="translate(423.90,790.50) scale(1,1.06)" font-size="12.00"><tspan font-style="italic">p</tspan>&lt;0.0001</text>
<line x1="463.40" y1="821.60" x2="493.60" y2="821.60" stroke="#000" stroke-width="1.0" shape-rendering="crispEdges"/>
<text transform="translate(453.60,817.40) scale(1,1.06)" font-size="12.00"><tspan font-style="italic">p</tspan>&lt;0.0001</text>
<text transform="translate(426.80,754.68) scale(1,1.06)" font-size="12.44">PE 18:2_20:4</text>
<text x="0" y="0" font-size="12.20" text-anchor="middle" transform="translate(373.30,845.00) rotate(-90)">Mol% of total lipids</text>
<text x="0" y="0" font-size="12.6" text-anchor="end" transform="translate(439.30,937.10) rotate(-45)">WT</text>
<text x="0" y="0" font-size="12.6" text-anchor="end" transform="translate(468.90,937.10) rotate(-45)">AGPS KO</text>
<text x="0" y="0" font-size="12.6" text-anchor="end" transform="translate(498.60,937.10) rotate(-45)">AGPS Addback</text>
<line x1="585.50" y1="773.90" x2="585.50" y2="922.60" stroke="#000" stroke-width="1.0" shape-rendering="crispEdges"/>
<line x1="581.10" y1="922.00" x2="684.50" y2="922.00" stroke="#000" stroke-width="1.0" shape-rendering="crispEdges"/>
<line x1="579.90" y1="922.00" x2="585.50" y2="922.00" stroke="#000" stroke-width="1.0" shape-rendering="crispEdges"/>
<text transform="translate(578.50,926.64) scale(1,1.06)" font-size="12.90" text-anchor="end">0.00</text>
<line x1="579.90" y1="884.98" x2="585.50" y2="884.98" stroke="#000" stroke-width="1.0" shape-rendering="crispEdges"/>
<text transform="translate(578.50,889.62) scale(1,1.06)" font-size="12.90" text-anchor="end">0.05</text>
<line x1="579.90" y1="847.95" x2="585.50" y2="847.95" stroke="#000" stroke-width="1.0" shape-rendering="crispEdges"/>
<text transform="translate(578.50,852.59) scale(1,1.06)" font-size="12.90" text-anchor="end">0.10</text>
<line x1="579.90" y1="810.92" x2="585.50" y2="810.92" stroke="#000" stroke-width="1.0" shape-rendering="crispEdges"/>
<text transform="translate(578.50,815.57) scale(1,1.06)" font-size="12.90" text-anchor="end">0.15</text>
<line x1="579.90" y1="773.90" x2="585.50" y2="773.90" stroke="#000" stroke-width="1.0" shape-rendering="crispEdges"/>
<text transform="translate(578.50,778.54) scale(1,1.06)" font-size="12.90" text-anchor="end">0.20</text>
<rect x="595.30" y="915.40" width="18.80" height="6.60" fill="#8e8e8e" stroke="#000" stroke-width="1" shape-rendering="crispEdges"/>
<rect x="624.90" y="842.40" width="19.00" height="79.60" fill="#e0441c" stroke="#000" stroke-width="1" shape-rendering="crispEdges"/>
<rect x="654.60" y="919.20" width="18.80" height="2.80" fill="#8e8e8e" stroke="#000" stroke-width="1" shape-rendering="crispEdges"/>
<line x1="604.70" y1="922.00" x2="604.70" y2="928.00" stroke="#000" stroke-width="1.0" shape-rendering="crispEdges"/>
<line x1="634.30" y1="922.00" x2="634.30" y2="928.00" stroke="#000" stroke-width="1.0" shape-rendering="crispEdges"/>
<line x1="664.00" y1="922.00" x2="664.00" y2="928.00" stroke="#000" stroke-width="1.0" shape-rendering="crispEdges"/>
<line x1="604.70" y1="910.00" x2="604.70" y2="918.00" stroke="#aaa" stroke-width="1.0" shape-rendering="crispEdges"/>
<line x1="600.70" y1="910.00" x2="608.70" y2="910.00" stroke="#aaa" stroke-width="1.0" shape-rendering="crispEdges"/>
<line x1="600.70" y1="918.00" x2="608.70" y2="918.00" stroke="#aaa" stroke-width="1.0" shape-rendering="crispEdges"/>
<circle cx="604.70" cy="905.20" r="2.2" fill="#000"/>
<circle cx="600.70" cy="920.00" r="2.2" fill="#000"/>
<circle cx="608.70" cy="920.00" r="2.2" fill="#000"/>
<circle cx="629.60" cy="841.20" r="2.2" fill="#000"/>
<circle cx="634.30" cy="844.80" r="2.2" fill="#000"/>
<circle cx="640.00" cy="841.50" r="2.2" fill="#000"/>
<circle cx="659.20" cy="920.80" r="2.2" fill="#000"/>
<circle cx="664.00" cy="915.40" r="2.2" fill="#000"/>
<circle cx="668.90" cy="920.80" r="2.2" fill="#000"/>
<line x1="604.70" y1="800.90" x2="634.30" y2="800.90" stroke="#000" stroke-width="1.0" shape-rendering="crispEdges"/>
<text transform="translate(594.30,796.40) scale(1,1.06)" font-size="12.15"><tspan font-style="italic">p</tspan>&lt;0.0001</text>
<line x1="634.30" y1="827.50" x2="664.50" y2="827.50" stroke="#000" stroke-width="1.0" shape-rendering="crispEdges"/>
<text transform="translate(624.80,823.60) scale(1,1.06)" font-size="12.12"><tspan font-style="italic">p</tspan>&lt;0.0001</text>
<text transform="translate(598.00,755.48) scale(1,1.06)" font-size="12.44">PE 18:2_20:3</text>
<text x="0" y="0" font-size="12.20" text-anchor="middle" transform="translate(544.20,845.00) rotate(-90)">Mol% of total lipids</text>
<text x="0" y="0" font-size="12.6" text-anchor="end" transform="translate(610.20,937.30) rotate(-45)">WT</text>
<text x="0" y="0" font-size="12.6" text-anchor="end" transform="translate(639.80,937.30) rotate(-45)">AGPS KO</text>
<text x="0" y="0" font-size="12.6" text-anchor="end" transform="translate(669.50,937.30) rotate(-45)">AGPS Addback</text>
<text transform="translate(22.50,514.30) scale(1,1.06)" font-size="16.00" font-weight="bold">f</text>
<text transform="translate(79.6,502.0) scale(1,1.06)" font-size="12.6">PyMT-1099 TGF-<tspan font-size="11" dx="2" dy="-1.5">β</tspan></text>
<rect x="54.30" y="513.60" width="20.20" height="7.40" fill="#ff2a00" stroke="#000" stroke-width="1" shape-rendering="crispEdges"/>
<rect x="54.30" y="529.00" width="20.20" height="7.40" fill="#0a30ff" stroke="#000" stroke-width="1" shape-rendering="crispEdges"/>
<text transform="translate(80.60,521.43) scale(1,1.06)" font-size="12.30">Ether lipids</text>
<rect x="143.60" y="513.60" width="20.00" height="7.40" fill="#000000" stroke="#000" stroke-width="1" shape-rendering="crispEdges"/>
<text transform="translate(168.20,521.43) scale(1,1.06)" font-size="12.30">Other lipids</text>
<text transform="translate(80.60,535.43) scale(1,1.06)" font-size="12.30">Non-ether PUFA-PLs</text>
<line x1="52.00" y1="543.00" x2="52.00" y2="690.60" stroke="#000" stroke-width="1.0" shape-rendering="crispEdges"/>
<line x1="52.00" y1="690.00" x2="200.00" y2="690.00" stroke="#000" stroke-width="1.0" shape-rendering="crispEdges"/>
<line x1="46.50" y1="690.00" x2="52.00" y2="690.00" stroke="#000" stroke-width="1.0" shape-rendering="crispEdges"/>
<text transform="translate(45.20,694.64) scale(1,1.06)" font-size="12.90" text-anchor="end">0</text>
<line x1="46.50" y1="653.20" x2="52.00" y2="653.20" stroke="#000" stroke-width="1.0" shape-rendering="crispEdges"/>
<text transform="translate(45.20,657.84) scale(1,1.06)" font-size="12.90" text-anchor="end">3</text>
<line x1="46.50" y1="616.40" x2="52.00" y2="616.40" stroke="#000" stroke-width="1.0" shape-rendering="crispEdges"/>
<text transform="translate(45.20,621.04) scale(1,1.06)" font-size="12.90" text-anchor="end">6</text>
<line x1="46.50" y1="579.60" x2="52.00" y2="579.60" stroke="#000" stroke-width="1.0" shape-rendering="crispEdges"/>
<text transform="translate(45.20,584.24) scale(1,1.06)" font-size="12.90" text-anchor="end">9</text>
<line x1="46.50" y1="542.80" x2="52.00" y2="542.80" stroke="#000" stroke-width="1.0" shape-rendering="crispEdges"/>
<text transform="translate(45.20,547.44) scale(1,1.06)" font-size="12.90" text-anchor="end">12</text>
<line x1="52.60" y1="690.00" x2="52.60" y2="695.00" stroke="#000" stroke-width="1.0" shape-rendering="crispEdges"/>
<text transform="translate(52.60,709.84) scale(1,1.06)" font-size="12.90" text-anchor="middle">-10</text>
<line x1="89.30" y1="690.00" x2="89.30" y2="695.00" stroke="#000" stroke-width="1.0" shape-rendering="crispEdges"/>
<text transform="translate(89.30,709.84) scale(1,1.06)" font-size="12.90" text-anchor="middle">-5</text>
<line x1="126.10" y1="690.00" x2="126.10" y2="695.00" stroke="#000" stroke-width="1.0" shape-rendering="crispEdges"/>
<text transform="translate(126.10,709.84) scale(1,1.06)" font-size="12.90" text-anchor="middle">0</text>
<line x1="163.00" y1="690.00" x2="163.00" y2="695.00" stroke="#000" stroke-width="1.0" shape-rendering="crispEdges"/>
<text transform="translate(163.00,709.84) scale(1,1.06)" font-size="12.90" text-anchor="middle">5</text>
<line x1="199.70" y1="690.00" x2="199.70" y2="695.00" stroke="#000" stroke-width="1.0" shape-rendering="crispEdges"/>
<text transform="translate(199.70,709.84) scale(1,1.06)" font-size="12.90" text-anchor="middle">10</text>
<line x1="118.60" y1="543.00" x2="118.60" y2="690.00" stroke="#000" stroke-width="1.6" stroke-dasharray="1.6,1.6"/>
<line x1="133.40" y1="543.00" x2="133.40" y2="690.00" stroke="#000" stroke-width="1.6" stroke-dasharray="1.6,1.6"/>
<line x1="54.00" y1="674.20" x2="199.00" y2="674.20" stroke="#000" stroke-width="1.6" stroke-dasharray="1.6,1.6"/>
<text x="0" y="0" font-size="12.1" text-anchor="middle" transform="translate(29.5,617.6) rotate(-90)">-Log<tspan dy="5">10</tspan><tspan dy="-5">pvalue</tspan></text>
<text transform="translate(62.3,727.0) scale(1,1.06)" font-size="12.6">Log<tspan font-size="9" dy="3.2">2</tspan><tspan dy="-3.2">FC (AGPS KO/WT)</tspan></text>
<circle cx="115.86" cy="621.90" r="2.3" fill="#000000"/>
<circle cx="119.04" cy="634.58" r="2.3" fill="#000000"/>
<circle cx="112.05" cy="618.35" r="2.3" fill="#000000"/>
<circle cx="117.37" cy="661.78" r="2.3" fill="#000000"/>
<circle cx="112.86" cy="626.17" r="2.3" fill="#000000"/>
<circle cx="120.41" cy="668.91" r="2.3" fill="#000000"/>
<circle cx="121.21" cy="638.23" r="2.3" fill="#000000"/>
<circle cx="115.71" cy="647.55" r="2.3" fill="#000000"/>
<circle cx="117.80" cy="630.69" r="2.3" fill="#000000"/>
<circle cx="122.92" cy="654.24" r="2.3" fill="#000000"/>
<circle cx="118.88" cy="664.63" r="2.3" fill="#000000"/>
<circle cx="117.27" cy="657.67" r="2.3" fill="#000000"/>
<circle cx="122.47" cy="646.81" r="2.3" fill="#000000"/>
<circle cx="123.60" cy="668.74" r="2.3" fill="#000000"/>
<circle cx="118.11" cy="652.18" r="2.3" fill="#000000"/>
<circle cx="123.29" cy="663.98" r="2.3" fill="#000000"/>
<circle cx="115.18" cy="637.50" r="2.3" fill="#000000"/>
<circle cx="114.50" cy="641.61" r="2.3" fill="#000000"/>
<circle cx="119.84" cy="628.50" r="2.3" fill="#000000"/>
<circle cx="124.49" cy="659.02" r="2.3" fill="#000000"/>
<circle cx="116.10" cy="616.10" r="2.3" fill="#000000"/>
<circle cx="114.78" cy="633.50" r="2.3" fill="#000000"/>
<circle cx="117.99" cy="641.55" r="2.3" fill="#000000"/>
<circle cx="115.94" cy="626.16" r="2.3" fill="#000000"/>
<circle cx="114.89" cy="653.86" r="2.3" fill="#000000"/>
<circle cx="123.61" cy="641.29" r="2.3" fill="#000000"/>
<circle cx="120.79" cy="660.18" r="2.3" fill="#000000"/>
<circle cx="117.02" cy="668.86" r="2.3" fill="#000000"/>
<circle cx="112.91" cy="621.92" r="2.3" fill="#000000"/>
<circle cx="125.70" cy="651.78" r="2.3" fill="#000000"/>
<circle cx="112.96" cy="613.84" r="2.3" fill="#000000"/>
<circle cx="114.78" cy="630.29" r="2.3" fill="#000000"/>
<circle cx="117.79" cy="644.46" r="2.3" fill="#000000"/>
<circle cx="125.85" cy="662.11" r="2.3" fill="#000000"/>
<circle cx="118.50" cy="623.50" r="2.3" fill="#000000"/>
<circle cx="121.60" cy="650.52" r="2.3" fill="#000000"/>
<circle cx="147.67" cy="642.51" r="2.3" fill="#000000"/>
<circle cx="145.58" cy="631.63" r="2.3" fill="#000000"/>
<circle cx="145.95" cy="636.29" r="2.3" fill="#000000"/>
<circle cx="146.10" cy="649.11" r="2.3" fill="#000000"/>
<circle cx="148.65" cy="651.66" r="2.3" fill="#000000"/>
<circle cx="143.26" cy="645.57" r="2.3" fill="#000000"/>
<circle cx="152.51" cy="660.80" r="2.3" fill="#000000"/>
<circle cx="152.02" cy="673.87" r="2.3" fill="#000000"/>
<circle cx="152.27" cy="669.92" r="2.3" fill="#000000"/>
<circle cx="143.95" cy="652.90" r="2.3" fill="#000000"/>
<circle cx="149.06" cy="671.26" r="2.3" fill="#000000"/>
<circle cx="145.22" cy="623.84" r="2.3" fill="#000000"/>
<circle cx="149.82" cy="659.04" r="2.3" fill="#000000"/>
<circle cx="153.17" cy="666.15" r="2.3" fill="#000000"/>
<circle cx="151.23" cy="625.90" r="2.3" fill="#000000"/>
<circle cx="152.32" cy="636.88" r="2.3" fill="#000000"/>
<circle cx="143.04" cy="637.67" r="2.3" fill="#000000"/>
<circle cx="148.71" cy="662.34" r="2.3" fill="#000000"/>
<circle cx="149.95" cy="622.74" r="2.3" fill="#000000"/>
<circle cx="148.53" cy="628.99" r="2.3" fill="#000000"/>
<circle cx="144.95" cy="656.31" r="2.3" fill="#000000"/>
<circle cx="143.97" cy="642.29" r="2.3" fill="#000000"/>
<circle cx="153.75" cy="629.08" r="2.3" fill="#000000"/>
<circle cx="149.15" cy="633.20" r="2.3" fill="#000000"/>
<circle cx="132.35" cy="665.90" r="2.3" fill="#000000"/>
<circle cx="141.03" cy="658.97" r="2.3" fill="#000000"/>
<circle cx="136.73" cy="663.84" r="2.3" fill="#000000"/>
<circle cx="141.99" cy="646.36" r="2.3" fill="#000000"/>
<circle cx="138.23" cy="622.37" r="2.3" fill="#000000"/>
<circle cx="138.45" cy="641.64" r="2.3" fill="#000000"/>
<circle cx="138.80" cy="650.94" r="2.3" fill="#000000"/>
<circle cx="130.87" cy="622.35" r="2.3" fill="#000000"/>
<circle cx="141.76" cy="626.11" r="2.3" fill="#000000"/>
<circle cx="134.03" cy="636.50" r="2.3" fill="#000000"/>
<circle cx="131.06" cy="655.47" r="2.3" fill="#000000"/>
<circle cx="142.60" cy="632.49" r="2.3" fill="#000000"/>
<circle cx="137.15" cy="634.44" r="2.3" fill="#000000"/>
<circle cx="128.84" cy="627.76" r="2.3" fill="#000000"/>
<circle cx="129.53" cy="663.49" r="2.3" fill="#000000"/>
<circle cx="134.45" cy="630.56" r="2.3" fill="#000000"/>
<circle cx="141.41" cy="667.83" r="2.3" fill="#000000"/>
<circle cx="133.65" cy="626.70" r="2.3" fill="#000000"/>
<circle cx="156.30" cy="611.60" r="2.3" fill="#000000"/>
<circle cx="156.30" cy="620.70" r="2.3" fill="#000000"/>
<circle cx="152.50" cy="637.80" r="2.3" fill="#000000"/>
<circle cx="151.90" cy="643.50" r="2.3" fill="#000000"/>
<circle cx="151.50" cy="648.30" r="2.3" fill="#000000"/>
<circle cx="152.50" cy="672.00" r="2.3" fill="#000000"/>
<circle cx="154.00" cy="674.00" r="2.3" fill="#000000"/>
<circle cx="160.50" cy="675.20" r="2.3" fill="#000000"/>
<circle cx="176.80" cy="570.40" r="2.3" fill="#000000"/>
<circle cx="129.30" cy="617.00" r="2.3" fill="#000000"/>
<circle cx="136.40" cy="617.50" r="2.3" fill="#000000"/>
<circle cx="127.80" cy="636.00" r="2.3" fill="#000000"/>
<circle cx="100.20" cy="685.00" r="2.3" fill="#000000"/>
<circle cx="103.00" cy="685.20" r="2.3" fill="#000000"/>
<circle cx="105.50" cy="684.80" r="2.3" fill="#000000"/>
<circle cx="112.80" cy="613.80" r="2.3" fill="#000000"/>
<circle cx="112.40" cy="621.70" r="2.3" fill="#000000"/>
<circle cx="114.30" cy="610.60" r="2.3" fill="#000000"/>
<circle cx="118.50" cy="627.00" r="2.3" fill="#000000"/>
<circle cx="149.00" cy="671.00" r="2.3" fill="#000000"/>
<circle cx="152.00" cy="675.00" r="2.3" fill="#000000"/>
<circle cx="150.00" cy="678.00" r="2.3" fill="#000000"/>
<circle cx="153.50" cy="678.50" r="2.3" fill="#000000"/>
<circle cx="92.10" cy="576.70" r="2.3" fill="#ff2a00"/>
<circle cx="80.90" cy="583.70" r="2.3" fill="#ff2a00"/>
<circle cx="78.10" cy="587.10" r="2.3" fill="#ff2a00"/>
<circle cx="85.50" cy="589.00" r="2.3" fill="#ff2a00"/>
<circle cx="82.30" cy="602.10" r="2.3" fill="#ff2a00"/>
<circle cx="86.10" cy="605.50" r="2.3" fill="#ff2a00"/>
<circle cx="88.90" cy="610.90" r="2.3" fill="#ff2a00"/>
<circle cx="75.60" cy="610.90" r="2.3" fill="#ff2a00"/>
<circle cx="78.50" cy="611.20" r="2.3" fill="#ff2a00"/>
<circle cx="62.70" cy="628.70" r="2.3" fill="#ff2a00"/>
<circle cx="70.30" cy="625.70" r="2.3" fill="#ff2a00"/>
<circle cx="71.80" cy="631.70" r="2.3" fill="#ff2a00"/>
<circle cx="80.40" cy="636.30" r="2.3" fill="#ff2a00"/>
<circle cx="64.80" cy="647.30" r="2.3" fill="#ff2a00"/>
<circle cx="82.30" cy="646.00" r="2.3" fill="#ff2a00"/>
<circle cx="86.60" cy="647.30" r="2.3" fill="#ff2a00"/>
<circle cx="90.40" cy="638.40" r="2.3" fill="#ff2a00"/>
<circle cx="80.40" cy="623.60" r="2.3" fill="#ff2a00"/>
<circle cx="85.10" cy="621.70" r="2.3" fill="#ff2a00"/>
<circle cx="93.70" cy="632.50" r="2.3" fill="#ff2a00"/>
<circle cx="99.00" cy="600.80" r="2.3" fill="#ff2a00"/>
<circle cx="103.20" cy="603.90" r="2.3" fill="#ff2a00"/>
<circle cx="88.30" cy="606.30" r="2.3" fill="#ff2a00"/>
<circle cx="101.40" cy="613.80" r="2.3" fill="#ff2a00"/>
<circle cx="104.50" cy="612.60" r="2.3" fill="#ff2a00"/>
<circle cx="92.20" cy="616.80" r="2.3" fill="#ff2a00"/>
<circle cx="95.30" cy="619.90" r="2.3" fill="#ff2a00"/>
<circle cx="87.00" cy="620.60" r="2.3" fill="#ff2a00"/>
<circle cx="80.80" cy="623.40" r="2.3" fill="#ff2a00"/>
<circle cx="70.30" cy="625.30" r="2.3" fill="#ff2a00"/>
<circle cx="84.20" cy="625.20" r="2.3" fill="#ff2a00"/>
<circle cx="93.50" cy="626.90" r="2.3" fill="#ff2a00"/>
<circle cx="102.30" cy="626.90" r="2.3" fill="#ff2a00"/>
<circle cx="100.17" cy="618.17" r="2.3" fill="#ff2a00"/>
<circle cx="100.95" cy="627.73" r="2.3" fill="#ff2a00"/>
<circle cx="106.40" cy="663.57" r="2.3" fill="#ff2a00"/>
<circle cx="109.37" cy="636.53" r="2.3" fill="#ff2a00"/>
<circle cx="103.83" cy="642.88" r="2.3" fill="#ff2a00"/>
<circle cx="103.22" cy="632.28" r="2.3" fill="#ff2a00"/>
<circle cx="105.31" cy="648.89" r="2.3" fill="#ff2a00"/>
<circle cx="111.24" cy="625.31" r="2.3" fill="#ff2a00"/>
<circle cx="103.60" cy="638.41" r="2.3" fill="#ff2a00"/>
<circle cx="111.78" cy="639.98" r="2.3" fill="#ff2a00"/>
<circle cx="103.46" cy="665.83" r="2.3" fill="#ff2a00"/>
<circle cx="110.62" cy="661.76" r="2.3" fill="#ff2a00"/>
<circle cx="105.62" cy="651.88" r="2.3" fill="#ff2a00"/>
<circle cx="107.68" cy="656.59" r="2.3" fill="#ff2a00"/>
<circle cx="107.65" cy="630.32" r="2.3" fill="#ff2a00"/>
<circle cx="103.40" cy="625.74" r="2.3" fill="#ff2a00"/>
<circle cx="108.26" cy="624.29" r="2.3" fill="#ff2a00"/>
<circle cx="113.00" cy="630.77" r="2.3" fill="#ff2a00"/>
<circle cx="100.65" cy="656.35" r="2.3" fill="#ff2a00"/>
<circle cx="100.68" cy="636.77" r="2.3" fill="#ff2a00"/>
<circle cx="107.98" cy="667.08" r="2.3" fill="#ff2a00"/>
<circle cx="102.88" cy="659.83" r="2.3" fill="#ff2a00"/>
<circle cx="97.81" cy="639.99" r="2.3" fill="#ff2a00"/>
<circle cx="100.18" cy="633.76" r="2.3" fill="#ff2a00"/>
<circle cx="112.12" cy="649.14" r="2.3" fill="#ff2a00"/>
<circle cx="100.86" cy="640.09" r="2.3" fill="#ff2a00"/>
<circle cx="110.24" cy="655.09" r="2.3" fill="#ff2a00"/>
<circle cx="109.91" cy="617.50" r="2.3" fill="#ff2a00"/>
<circle cx="97.56" cy="644.50" r="2.3" fill="#ff2a00"/>
<circle cx="107.96" cy="619.91" r="2.3" fill="#ff2a00"/>
<circle cx="106.35" cy="634.26" r="2.3" fill="#ff2a00"/>
<circle cx="112.35" cy="634.22" r="2.3" fill="#ff2a00"/>
<circle cx="101.21" cy="647.17" r="2.3" fill="#ff2a00"/>
<circle cx="110.12" cy="644.24" r="2.3" fill="#ff2a00"/>
<circle cx="99.70" cy="652.64" r="2.3" fill="#ff2a00"/>
<circle cx="103.76" cy="629.15" r="2.3" fill="#ff2a00"/>
<circle cx="104.60" cy="622.27" r="2.3" fill="#ff2a00"/>
<circle cx="98.47" cy="648.47" r="2.3" fill="#ff2a00"/>
<circle cx="104.97" cy="616.04" r="2.3" fill="#ff2a00"/>
<circle cx="110.61" cy="622.14" r="2.3" fill="#ff2a00"/>
<circle cx="106.89" cy="644.35" r="2.3" fill="#ff2a00"/>
<circle cx="104.81" cy="619.10" r="2.3" fill="#ff2a00"/>
<circle cx="110.16" cy="628.09" r="2.3" fill="#ff2a00"/>
<circle cx="107.29" cy="640.07" r="2.3" fill="#ff2a00"/>
<circle cx="90.85" cy="611.89" r="2.3" fill="#ff2a00"/>
<circle cx="95.18" cy="615.76" r="2.3" fill="#ff2a00"/>
<circle cx="97.43" cy="619.97" r="2.3" fill="#ff2a00"/>
<circle cx="105.40" cy="606.40" r="2.3" fill="#ff2a00"/>
<circle cx="85.39" cy="627.36" r="2.3" fill="#ff2a00"/>
<circle cx="93.69" cy="628.87" r="2.3" fill="#ff2a00"/>
<circle cx="89.06" cy="633.73" r="2.3" fill="#ff2a00"/>
<circle cx="99.22" cy="611.97" r="2.3" fill="#ff2a00"/>
<circle cx="103.76" cy="614.78" r="2.3" fill="#ff2a00"/>
<circle cx="97.03" cy="631.18" r="2.3" fill="#ff2a00"/>
<circle cx="92.68" cy="637.79" r="2.3" fill="#ff2a00"/>
<circle cx="88.62" cy="619.07" r="2.3" fill="#ff2a00"/>
<circle cx="94.52" cy="609.75" r="2.3" fill="#ff2a00"/>
<circle cx="80.12" cy="622.09" r="2.3" fill="#ff2a00"/>
<circle cx="84.98" cy="622.26" r="2.3" fill="#ff2a00"/>
<circle cx="94.35" cy="633.95" r="2.3" fill="#ff2a00"/>
<circle cx="103.90" cy="610.71" r="2.3" fill="#ff2a00"/>
<circle cx="86.68" cy="614.70" r="2.3" fill="#ff2a00"/>
<circle cx="82.64" cy="618.88" r="2.3" fill="#ff2a00"/>
<circle cx="89.53" cy="628.75" r="2.3" fill="#ff2a00"/>
<circle cx="102.00" cy="676.50" r="2.3" fill="#ff2a00"/>
<circle cx="105.50" cy="677.00" r="2.3" fill="#ff2a00"/>
<circle cx="103.00" cy="680.00" r="2.3" fill="#ff2a00"/>
<circle cx="107.00" cy="673.00" r="2.3" fill="#ff2a00"/>
<circle cx="140.92" cy="661.71" r="2.3" fill="#0a30ff"/>
<circle cx="134.96" cy="632.48" r="2.3" fill="#0a30ff"/>
<circle cx="136.32" cy="623.01" r="2.3" fill="#0a30ff"/>
<circle cx="141.17" cy="635.87" r="2.3" fill="#0a30ff"/>
<circle cx="141.46" cy="630.98" r="2.3" fill="#0a30ff"/>
<circle cx="133.39" cy="630.20" r="2.3" fill="#0a30ff"/>
<circle cx="134.24" cy="626.41" r="2.3" fill="#0a30ff"/>
<circle cx="127.05" cy="656.42" r="2.3" fill="#0a30ff"/>
<circle cx="132.13" cy="642.85" r="2.3" fill="#0a30ff"/>
<circle cx="134.28" cy="651.69" r="2.3" fill="#0a30ff"/>
<circle cx="138.21" cy="636.30" r="2.3" fill="#0a30ff"/>
<circle cx="142.79" cy="663.85" r="2.3" fill="#0a30ff"/>
<circle cx="127.97" cy="662.36" r="2.3" fill="#0a30ff"/>
<circle cx="127.20" cy="669.30" r="2.3" fill="#0a30ff"/>
<circle cx="138.15" cy="630.00" r="2.3" fill="#0a30ff"/>
<circle cx="128.73" cy="623.99" r="2.3" fill="#0a30ff"/>
<circle cx="130.97" cy="659.47" r="2.3" fill="#0a30ff"/>
<circle cx="129.85" cy="665.90" r="2.3" fill="#0a30ff"/>
<circle cx="137.34" cy="659.75" r="2.3" fill="#0a30ff"/>
<circle cx="138.36" cy="666.06" r="2.3" fill="#0a30ff"/>
<circle cx="130.36" cy="654.80" r="2.3" fill="#0a30ff"/>
<circle cx="134.46" cy="665.43" r="2.3" fill="#0a30ff"/>
<circle cx="135.38" cy="619.27" r="2.3" fill="#0a30ff"/>
<circle cx="135.35" cy="643.90" r="2.3" fill="#0a30ff"/>
<circle cx="134.96" cy="647.50" r="2.3" fill="#0a30ff"/>
<circle cx="138.31" cy="663.07" r="2.3" fill="#0a30ff"/>
<circle cx="133.37" cy="639.45" r="2.3" fill="#0a30ff"/>
<circle cx="137.83" cy="651.62" r="2.3" fill="#0a30ff"/>
<circle cx="127.49" cy="650.14" r="2.3" fill="#0a30ff"/>
<circle cx="132.62" cy="670.98" r="2.3" fill="#0a30ff"/>
<circle cx="130.58" cy="640.37" r="2.3" fill="#0a30ff"/>
<circle cx="141.07" cy="638.61" r="2.3" fill="#0a30ff"/>
<circle cx="135.61" cy="670.60" r="2.3" fill="#0a30ff"/>
<circle cx="132.63" cy="633.76" r="2.3" fill="#0a30ff"/>
<circle cx="132.09" cy="648.84" r="2.3" fill="#0a30ff"/>
<circle cx="142.06" cy="646.54" r="2.3" fill="#0a30ff"/>
<circle cx="127.84" cy="632.82" r="2.3" fill="#0a30ff"/>
<circle cx="127.11" cy="626.64" r="2.3" fill="#0a30ff"/>
<circle cx="142.66" cy="650.09" r="2.3" fill="#0a30ff"/>
<circle cx="138.34" cy="641.64" r="2.3" fill="#0a30ff"/>
<circle cx="139.97" cy="621.68" r="2.3" fill="#0a30ff"/>
<circle cx="142.62" cy="641.00" r="2.3" fill="#0a30ff"/>
<circle cx="127.24" cy="637.68" r="2.3" fill="#0a30ff"/>
<circle cx="134.01" cy="621.71" r="2.3" fill="#0a30ff"/>
<circle cx="139.47" cy="626.49" r="2.3" fill="#0a30ff"/>
<circle cx="127.85" cy="659.35" r="2.3" fill="#0a30ff"/>
<circle cx="137.69" cy="655.72" r="2.3" fill="#0a30ff"/>
<circle cx="132.29" cy="656.85" r="2.3" fill="#0a30ff"/>
<circle cx="133.56" cy="660.03" r="2.3" fill="#0a30ff"/>
<circle cx="133.40" cy="654.35" r="2.3" fill="#0a30ff"/>
<circle cx="130.22" cy="626.77" r="2.3" fill="#0a30ff"/>
<circle cx="140.92" cy="669.95" r="2.3" fill="#0a30ff"/>
<circle cx="131.32" cy="618.12" r="2.3" fill="#0a30ff"/>
<circle cx="143.42" cy="671.54" r="2.3" fill="#0a30ff"/>
<circle cx="142.35" cy="666.66" r="2.3" fill="#0a30ff"/>
<circle cx="140.37" cy="655.74" r="2.3" fill="#0a30ff"/>
<circle cx="138.51" cy="632.73" r="2.3" fill="#0a30ff"/>
<circle cx="131.37" cy="622.95" r="2.3" fill="#0a30ff"/>
<circle cx="148.81" cy="627.93" r="2.3" fill="#0a30ff"/>
<circle cx="146.21" cy="668.50" r="2.3" fill="#0a30ff"/>
<circle cx="152.67" cy="666.10" r="2.3" fill="#0a30ff"/>
<circle cx="145.40" cy="642.70" r="2.3" fill="#0a30ff"/>
<circle cx="152.42" cy="652.30" r="2.3" fill="#0a30ff"/>
<circle cx="148.52" cy="637.01" r="2.3" fill="#0a30ff"/>
<circle cx="152.23" cy="644.31" r="2.3" fill="#0a30ff"/>
<circle cx="146.22" cy="622.01" r="2.3" fill="#0a30ff"/>
<circle cx="151.14" cy="648.33" r="2.3" fill="#0a30ff"/>
<circle cx="145.45" cy="665.15" r="2.3" fill="#0a30ff"/>
<circle cx="145.56" cy="633.37" r="2.3" fill="#0a30ff"/>
<circle cx="152.40" cy="636.73" r="2.3" fill="#0a30ff"/>
<circle cx="153.12" cy="630.57" r="2.3" fill="#0a30ff"/>
<circle cx="145.80" cy="659.83" r="2.3" fill="#0a30ff"/>
<circle cx="150.12" cy="656.51" r="2.3" fill="#0a30ff"/>
<circle cx="151.33" cy="640.63" r="2.3" fill="#0a30ff"/>
<circle cx="151.22" cy="621.93" r="2.3" fill="#0a30ff"/>
<circle cx="147.71" cy="650.53" r="2.3" fill="#0a30ff"/>
<circle cx="144.05" cy="646.55" r="2.3" fill="#0a30ff"/>
<circle cx="144.18" cy="650.77" r="2.3" fill="#0a30ff"/>
<circle cx="122.02" cy="651.78" r="2.3" fill="#0a30ff"/>
<circle cx="122.79" cy="637.50" r="2.3" fill="#0a30ff"/>
<circle cx="123.80" cy="658.38" r="2.3" fill="#0a30ff"/>
<circle cx="118.78" cy="638.18" r="2.3" fill="#0a30ff"/>
<circle cx="122.11" cy="663.28" r="2.3" fill="#0a30ff"/>
<circle cx="120.87" cy="648.30" r="2.3" fill="#0a30ff"/>
<circle cx="123.24" cy="645.51" r="2.3" fill="#0a30ff"/>
<circle cx="121.16" cy="667.36" r="2.3" fill="#0a30ff"/>
<circle cx="124.34" cy="665.77" r="2.3" fill="#0a30ff"/>
<circle cx="120.36" cy="656.02" r="2.3" fill="#0a30ff"/>
<circle cx="112.42" cy="683.67" r="2.3" fill="#0a30ff"/>
<circle cx="150.02" cy="681.82" r="2.3" fill="#0a30ff"/>
<circle cx="119.08" cy="680.73" r="2.3" fill="#0a30ff"/>
<circle cx="131.02" cy="673.41" r="2.3" fill="#0a30ff"/>
<circle cx="112.58" cy="673.02" r="2.3" fill="#0a30ff"/>
<circle cx="119.97" cy="675.60" r="2.3" fill="#0a30ff"/>
<circle cx="144.79" cy="684.03" r="2.3" fill="#0a30ff"/>
<circle cx="132.66" cy="684.96" r="2.3" fill="#0a30ff"/>
<circle cx="116.05" cy="686.34" r="2.3" fill="#0a30ff"/>
<circle cx="127.74" cy="682.60" r="2.3" fill="#0a30ff"/>
<circle cx="134.58" cy="680.79" r="2.3" fill="#0a30ff"/>
<circle cx="124.24" cy="683.47" r="2.3" fill="#0a30ff"/>
<circle cx="145.78" cy="675.49" r="2.3" fill="#0a30ff"/>
<circle cx="132.05" cy="681.30" r="2.3" fill="#0a30ff"/>
<circle cx="120.30" cy="687.76" r="2.3" fill="#0a30ff"/>
<circle cx="146.21" cy="680.12" r="2.3" fill="#0a30ff"/>
<circle cx="109.79" cy="678.92" r="2.3" fill="#0a30ff"/>
<circle cx="126.80" cy="686.91" r="2.3" fill="#0a30ff"/>
<circle cx="113.95" cy="677.75" r="2.3" fill="#0a30ff"/>
<circle cx="134.73" cy="689.55" r="2.3" fill="#0a30ff"/>
<circle cx="140.24" cy="687.10" r="2.3" fill="#0a30ff"/>
<circle cx="141.19" cy="680.93" r="2.3" fill="#0a30ff"/>
<circle cx="148.16" cy="672.93" r="2.3" fill="#0a30ff"/>
<circle cx="141.46" cy="683.47" r="2.3" fill="#0a30ff"/>
<circle cx="139.54" cy="676.74" r="2.3" fill="#0a30ff"/>
<circle cx="124.30" cy="677.41" r="2.3" fill="#0a30ff"/>
<circle cx="129.48" cy="680.21" r="2.3" fill="#0a30ff"/>
<circle cx="133.17" cy="672.02" r="2.3" fill="#0a30ff"/>
<circle cx="148.41" cy="677.45" r="2.3" fill="#0a30ff"/>
<circle cx="150.14" cy="674.70" r="2.3" fill="#0a30ff"/>
<circle cx="126.19" cy="690.94" r="2.3" fill="#0a30ff"/>
<circle cx="137.84" cy="678.96" r="2.3" fill="#0a30ff"/>
<circle cx="137.44" cy="682.08" r="2.3" fill="#0a30ff"/>
<circle cx="151.83" cy="677.90" r="2.3" fill="#0a30ff"/>
<circle cx="130.86" cy="688.77" r="2.3" fill="#0a30ff"/>
<circle cx="147.25" cy="685.87" r="2.3" fill="#0a30ff"/>
<circle cx="115.46" cy="674.20" r="2.3" fill="#0a30ff"/>
<circle cx="135.35" cy="683.87" r="2.3" fill="#0a30ff"/>
<circle cx="135.64" cy="670.97" r="2.3" fill="#0a30ff"/>
<circle cx="137.06" cy="674.52" r="2.3" fill="#0a30ff"/>
<circle cx="118.97" cy="684.88" r="2.3" fill="#0a30ff"/>
<circle cx="141.18" cy="672.45" r="2.3" fill="#0a30ff"/>
<circle cx="133.20" cy="678.02" r="2.3" fill="#0a30ff"/>
<circle cx="127.24" cy="678.87" r="2.3" fill="#0a30ff"/>
<circle cx="118.22" cy="671.01" r="2.3" fill="#0a30ff"/>
<circle cx="143.72" cy="676.98" r="2.3" fill="#0a30ff"/>
<circle cx="123.13" cy="674.29" r="2.3" fill="#0a30ff"/>
<circle cx="125.14" cy="671.51" r="2.3" fill="#0a30ff"/>
<circle cx="111.17" cy="676.20" r="2.3" fill="#0a30ff"/>
<circle cx="144.58" cy="672.94" r="2.3" fill="#0a30ff"/>
<circle cx="122.88" cy="686.62" r="2.3" fill="#0a30ff"/>
<circle cx="127.37" cy="673.01" r="2.3" fill="#0a30ff"/>
<circle cx="134.37" cy="674.89" r="2.3" fill="#0a30ff"/>
<circle cx="112.68" cy="686.48" r="2.3" fill="#0a30ff"/>
<circle cx="108.33" cy="685.63" r="2.3" fill="#0a30ff"/>
<circle cx="120.64" cy="678.76" r="2.3" fill="#0a30ff"/>
<circle cx="122.71" cy="670.02" r="2.3" fill="#0a30ff"/>
<circle cx="131.44" cy="670.19" r="2.3" fill="#0a30ff"/>
<circle cx="144.37" cy="687.07" r="2.3" fill="#0a30ff"/>
<circle cx="123.62" cy="689.12" r="2.3" fill="#0a30ff"/>
<circle cx="139.53" cy="670.06" r="2.3" fill="#0a30ff"/>
<circle cx="136.13" cy="676.88" r="2.3" fill="#0a30ff"/>
<circle cx="147.05" cy="682.61" r="2.3" fill="#0a30ff"/>
<circle cx="117.66" cy="678.56" r="2.3" fill="#0a30ff"/>
<circle cx="137.62" cy="688.99" r="2.3" fill="#0a30ff"/>
<circle cx="115.69" cy="680.28" r="2.3" fill="#0a30ff"/>
<circle cx="115.20" cy="688.82" r="2.3" fill="#0a30ff"/>
<circle cx="122.05" cy="681.37" r="2.3" fill="#0a30ff"/>
<circle cx="127.85" cy="670.31" r="2.3" fill="#0a30ff"/>
<circle cx="134.63" cy="686.66" r="2.3" fill="#0a30ff"/>
<circle cx="143.63" cy="679.73" r="2.3" fill="#0a30ff"/>
<circle cx="109.71" cy="681.54" r="2.3" fill="#0a30ff"/>
<circle cx="121.57" cy="690.78" r="2.3" fill="#0a30ff"/>
<circle cx="149.52" cy="684.42" r="2.3" fill="#0a30ff"/>
<circle cx="116.75" cy="683.10" r="2.3" fill="#0a30ff"/>
<circle cx="143.00" cy="600.40" r="2.3" fill="#0a30ff"/>
<circle cx="136.70" cy="608.40" r="2.3" fill="#0a30ff"/>
<circle cx="137.90" cy="615.00" r="2.3" fill="#0a30ff"/>
<circle cx="99.70" cy="607.40" r="2.3" fill="#0a30ff"/>
<circle cx="90.40" cy="625.50" r="2.3" fill="#0a30ff"/>
<circle cx="81.90" cy="651.70" r="2.3" fill="#0a30ff"/>
<circle cx="94.00" cy="684.30" r="2.3" fill="#0a30ff"/>
<circle cx="108.80" cy="643.50" r="2.3" fill="#0a30ff"/>
<circle cx="160.00" cy="684.30" r="2.3" fill="#0a30ff"/>
<circle cx="163.90" cy="681.50" r="2.3" fill="#0a30ff"/>
<circle cx="169.60" cy="681.10" r="2.3" fill="#0a30ff"/>
<circle cx="172.40" cy="684.30" r="2.3" fill="#0a30ff"/>
<circle cx="107.50" cy="676.00" r="2.3" fill="#0a30ff"/>
<circle cx="106.50" cy="680.00" r="2.3" fill="#0a30ff"/>
<circle cx="133.00" cy="628.00" r="2.3" fill="#000000"/>
<circle cx="138.00" cy="641.00" r="2.3" fill="#000000"/>
<circle cx="131.00" cy="652.00" r="2.3" fill="#000000"/>
<circle cx="140.00" cy="660.00" r="2.3" fill="#000000"/>
<circle cx="136.00" cy="676.00" r="2.3" fill="#000000"/>
<circle cx="145.00" cy="680.00" r="2.3" fill="#000000"/>
<circle cx="128.00" cy="684.00" r="2.3" fill="#000000"/>
<circle cx="139.00" cy="646.00" r="2.3" fill="#000000"/>
<circle cx="134.00" cy="664.00" r="2.3" fill="#000000"/>
<circle cx="146.00" cy="631.00" r="2.3" fill="#000000"/>
<circle cx="150.00" cy="650.00" r="2.3" fill="#000000"/>
<circle cx="147.00" cy="662.00" r="2.3" fill="#000000"/>
<line x1="161.00" y1="589.80" x2="143.50" y2="600.30" stroke="#000" stroke-width="1.2"/>
<line x1="161.00" y1="605.50" x2="138.50" y2="618.60" stroke="#000" stroke-width="1.2"/>
<line x1="161.00" y1="620.40" x2="147.00" y2="621.60" stroke="#000" stroke-width="1.2"/>
<line x1="161.00" y1="636.60" x2="151.70" y2="638.00" stroke="#000" stroke-width="1.2"/>
<line x1="161.00" y1="653.40" x2="153.40" y2="653.00" stroke="#000" stroke-width="1.2"/>
<text transform="translate(163.80,591.99) scale(1,1.06)" font-size="10.80">PE 16:0_22:6</text>
<text transform="translate(163.80,608.09) scale(1,1.06)" font-size="10.80">PE 18:1_20:4</text>
<text transform="translate(163.80,623.89) scale(1,1.06)" font-size="10.80">PE 16:1_22:6</text>
<text transform="translate(163.80,638.89) scale(1,1.06)" font-size="10.80">PE 18:0_22:5</text>
<text transform="translate(163.80,656.39) scale(1,1.06)" font-size="10.80">PE 18:2_20:4</text>
<text transform="translate(262.60,513.00) scale(1,1.06)" font-size="16.00" font-weight="bold">g</text>
<text transform="translate(367.90,500.69) scale(1,1.06)" font-size="12.20" text-anchor="middle">pB3</text>
<rect x="295.50" y="510.30" width="20.60" height="7.60" fill="#ff2a00" stroke="#000" stroke-width="1" shape-rendering="crispEdges"/>
<rect x="295.50" y="525.60" width="20.60" height="7.60" fill="#0a30ff" stroke="#000" stroke-width="1" shape-rendering="crispEdges"/>
<text transform="translate(322.30,518.23) scale(1,1.06)" font-size="12.30">Ether lipids</text>
<rect x="387.20" y="510.30" width="20.20" height="7.60" fill="#000000" stroke="#000" stroke-width="1" shape-rendering="crispEdges"/>
<text transform="translate(410.80,518.23) scale(1,1.06)" font-size="12.30">Other lipids</text>
<text transform="translate(322.30,532.23) scale(1,1.06)" font-size="12.30">Non-ether PUFA-PLs</text>
<line x1="294.30" y1="541.80" x2="294.30" y2="690.30" stroke="#000" stroke-width="1.0" shape-rendering="crispEdges"/>
<line x1="294.30" y1="689.70" x2="442.50" y2="689.70" stroke="#000" stroke-width="1.0" shape-rendering="crispEdges"/>
<line x1="288.80" y1="689.70" x2="294.30" y2="689.70" stroke="#000" stroke-width="1.0" shape-rendering="crispEdges"/>
<text transform="translate(287.50,694.34) scale(1,1.06)" font-size="12.90" text-anchor="end">0</text>
<line x1="288.80" y1="660.10" x2="294.30" y2="660.10" stroke="#000" stroke-width="1.0" shape-rendering="crispEdges"/>
<text transform="translate(287.50,664.74) scale(1,1.06)" font-size="12.90" text-anchor="end">2</text>
<line x1="288.80" y1="630.50" x2="294.30" y2="630.50" stroke="#000" stroke-width="1.0" shape-rendering="crispEdges"/>
<text transform="translate(287.50,635.14) scale(1,1.06)" font-size="12.90" text-anchor="end">4</text>
<line x1="288.80" y1="600.90" x2="294.30" y2="600.90" stroke="#000" stroke-width="1.0" shape-rendering="crispEdges"/>
<text transform="translate(287.50,605.54) scale(1,1.06)" font-size="12.90" text-anchor="end">6</text>
<line x1="288.80" y1="571.30" x2="294.30" y2="571.30" stroke="#000" stroke-width="1.0" shape-rendering="crispEdges"/>
<text transform="translate(287.50,575.94) scale(1,1.06)" font-size="12.90" text-anchor="end">8</text>
<line x1="288.80" y1="541.70" x2="294.30" y2="541.70" stroke="#000" stroke-width="1.0" shape-rendering="crispEdges"/>
<text transform="translate(287.50,546.34) scale(1,1.06)" font-size="12.90" text-anchor="end">10</text>
<line x1="294.30" y1="689.70" x2="294.30" y2="694.70" stroke="#000" stroke-width="1.0" shape-rendering="crispEdges"/>
<text transform="translate(294.30,709.84) scale(1,1.06)" font-size="12.90" text-anchor="middle">-10</text>
<line x1="331.10" y1="689.70" x2="331.10" y2="694.70" stroke="#000" stroke-width="1.0" shape-rendering="crispEdges"/>
<text transform="translate(331.10,709.84) scale(1,1.06)" font-size="12.90" text-anchor="middle">-5</text>
<line x1="368.60" y1="689.70" x2="368.60" y2="694.70" stroke="#000" stroke-width="1.0" shape-rendering="crispEdges"/>
<text transform="translate(368.60,709.84) scale(1,1.06)" font-size="12.90" text-anchor="middle">0</text>
<line x1="405.40" y1="689.70" x2="405.40" y2="694.70" stroke="#000" stroke-width="1.0" shape-rendering="crispEdges"/>
<text transform="translate(405.40,709.84) scale(1,1.06)" font-size="12.90" text-anchor="middle">5</text>
<line x1="442.20" y1="689.70" x2="442.20" y2="694.70" stroke="#000" stroke-width="1.0" shape-rendering="crispEdges"/>
<text transform="translate(442.20,709.84) scale(1,1.06)" font-size="12.90" text-anchor="middle">10</text>
<line x1="361.00" y1="541.80" x2="361.00" y2="689.70" stroke="#000" stroke-width="1.6" stroke-dasharray="1.6,1.6"/>
<line x1="375.70" y1="541.80" x2="375.70" y2="689.70" stroke="#000" stroke-width="1.6" stroke-dasharray="1.6,1.6"/>
<line x1="296.30" y1="670.40" x2="441.50" y2="670.40" stroke="#000" stroke-width="1.6" stroke-dasharray="1.6,1.6"/>
<text x="0" y="0" font-size="12.1" text-anchor="middle" transform="translate(269.5,617.0) rotate(-90)">-Log<tspan dy="5">10</tspan><tspan dy="-5">pvalue</tspan></text>
<text transform="translate(299.5,727.0) scale(1,1.06)" font-size="12.6">Log<tspan font-size="9" dy="3.2">2</tspan><tspan dy="-3.2">FC (AGPS KO/WT)</tspan></text>
<circle cx="343.79" cy="651.20" r="2.3" fill="#000000"/>
<circle cx="350.86" cy="649.31" r="2.3" fill="#000000"/>
<circle cx="339.77" cy="650.24" r="2.3" fill="#000000"/>
<circle cx="346.45" cy="655.86" r="2.3" fill="#000000"/>
<circle cx="338.41" cy="646.07" r="2.3" fill="#000000"/>
<circle cx="338.36" cy="656.19" r="2.3" fill="#000000"/>
<circle cx="347.40" cy="640.84" r="2.3" fill="#000000"/>
<circle cx="351.73" cy="659.30" r="2.3" fill="#000000"/>
<circle cx="346.81" cy="652.31" r="2.3" fill="#000000"/>
<circle cx="339.36" cy="640.30" r="2.3" fill="#000000"/>
<circle cx="343.61" cy="656.85" r="2.3" fill="#000000"/>
<circle cx="343.86" cy="645.56" r="2.3" fill="#000000"/>
<circle cx="349.60" cy="654.16" r="2.3" fill="#000000"/>
<circle cx="348.68" cy="645.40" r="2.3" fill="#000000"/>
<circle cx="338.50" cy="659.79" r="2.3" fill="#000000"/>
<circle cx="340.74" cy="643.80" r="2.3" fill="#000000"/>
<circle cx="365.13" cy="677.20" r="2.3" fill="#000000"/>
<circle cx="359.16" cy="677.66" r="2.3" fill="#000000"/>
<circle cx="366.70" cy="661.37" r="2.3" fill="#000000"/>
<circle cx="361.64" cy="637.88" r="2.3" fill="#000000"/>
<circle cx="359.62" cy="666.12" r="2.3" fill="#000000"/>
<circle cx="359.83" cy="671.71" r="2.3" fill="#000000"/>
<circle cx="363.56" cy="646.79" r="2.3" fill="#000000"/>
<circle cx="357.76" cy="643.73" r="2.3" fill="#000000"/>
<circle cx="363.15" cy="673.06" r="2.3" fill="#000000"/>
<circle cx="367.09" cy="642.59" r="2.3" fill="#000000"/>
<circle cx="358.94" cy="650.33" r="2.3" fill="#000000"/>
<circle cx="360.98" cy="674.87" r="2.3" fill="#000000"/>
<circle cx="358.54" cy="634.65" r="2.3" fill="#000000"/>
<circle cx="357.20" cy="675.78" r="2.3" fill="#000000"/>
<circle cx="357.23" cy="662.90" r="2.3" fill="#000000"/>
<circle cx="362.30" cy="667.33" r="2.3" fill="#000000"/>
<circle cx="357.83" cy="658.67" r="2.3" fill="#000000"/>
<circle cx="365.11" cy="666.07" r="2.3" fill="#000000"/>
<circle cx="366.91" cy="673.94" r="2.3" fill="#000000"/>
<circle cx="363.87" cy="650.97" r="2.3" fill="#000000"/>
<circle cx="363.41" cy="661.62" r="2.3" fill="#000000"/>
<circle cx="357.92" cy="668.26" r="2.3" fill="#000000"/>
<circle cx="362.29" cy="643.82" r="2.3" fill="#000000"/>
<circle cx="364.68" cy="656.37" r="2.3" fill="#000000"/>
<circle cx="359.23" cy="640.97" r="2.3" fill="#000000"/>
<circle cx="359.18" cy="653.25" r="2.3" fill="#000000"/>
<circle cx="385.30" cy="686.63" r="2.3" fill="#000000"/>
<circle cx="389.01" cy="678.15" r="2.3" fill="#000000"/>
<circle cx="374.16" cy="677.06" r="2.3" fill="#000000"/>
<circle cx="351.81" cy="679.94" r="2.3" fill="#000000"/>
<circle cx="380.56" cy="687.20" r="2.3" fill="#000000"/>
<circle cx="358.84" cy="674.71" r="2.3" fill="#000000"/>
<circle cx="367.53" cy="676.40" r="2.3" fill="#000000"/>
<circle cx="355.70" cy="678.62" r="2.3" fill="#000000"/>
<circle cx="376.29" cy="679.90" r="2.3" fill="#000000"/>
<circle cx="360.77" cy="685.43" r="2.3" fill="#000000"/>
<circle cx="394.10" cy="679.24" r="2.3" fill="#000000"/>
<circle cx="348.73" cy="672.50" r="2.3" fill="#000000"/>
<circle cx="388.64" cy="672.66" r="2.3" fill="#000000"/>
<circle cx="380.43" cy="681.13" r="2.3" fill="#000000"/>
<circle cx="345.96" cy="674.17" r="2.3" fill="#000000"/>
<circle cx="367.74" cy="672.40" r="2.3" fill="#000000"/>
<circle cx="386.48" cy="675.80" r="2.3" fill="#000000"/>
<circle cx="352.04" cy="672.75" r="2.3" fill="#000000"/>
<circle cx="379.22" cy="675.19" r="2.3" fill="#000000"/>
<circle cx="345.54" cy="679.56" r="2.3" fill="#000000"/>
<circle cx="385.00" cy="610.48" r="2.3" fill="#000000"/>
<circle cx="378.81" cy="614.64" r="2.3" fill="#000000"/>
<circle cx="384.76" cy="619.01" r="2.3" fill="#000000"/>
<circle cx="383.60" cy="624.91" r="2.3" fill="#000000"/>
<circle cx="387.69" cy="608.18" r="2.3" fill="#000000"/>
<circle cx="388.06" cy="624.06" r="2.3" fill="#000000"/>
<circle cx="383.76" cy="628.75" r="2.3" fill="#000000"/>
<circle cx="380.28" cy="620.22" r="2.3" fill="#000000"/>
<circle cx="402.00" cy="633.60" r="2.3" fill="#000000"/>
<circle cx="392.50" cy="651.60" r="2.3" fill="#000000"/>
<circle cx="397.20" cy="655.80" r="2.3" fill="#000000"/>
<circle cx="381.10" cy="655.40" r="2.3" fill="#000000"/>
<circle cx="384.00" cy="659.20" r="2.3" fill="#000000"/>
<circle cx="389.60" cy="657.30" r="2.3" fill="#000000"/>
<circle cx="376.30" cy="609.60" r="2.3" fill="#000000"/>
<circle cx="377.30" cy="619.50" r="2.3" fill="#000000"/>
<circle cx="386.80" cy="616.10" r="2.3" fill="#000000"/>
<circle cx="392.50" cy="617.40" r="2.3" fill="#000000"/>
<circle cx="387.70" cy="625.40" r="2.3" fill="#000000"/>
<circle cx="387.70" cy="628.80" r="2.3" fill="#000000"/>
<circle cx="380.20" cy="630.30" r="2.3" fill="#000000"/>
<circle cx="345.00" cy="671.00" r="2.3" fill="#000000"/>
<circle cx="352.00" cy="676.00" r="2.3" fill="#000000"/>
<circle cx="380.00" cy="683.00" r="2.3" fill="#000000"/>
<circle cx="390.00" cy="682.00" r="2.3" fill="#000000"/>
<circle cx="398.00" cy="678.00" r="2.3" fill="#000000"/>
<circle cx="310.90" cy="583.30" r="2.3" fill="#ff2a00"/>
<circle cx="341.20" cy="575.70" r="2.3" fill="#ff2a00"/>
<circle cx="342.20" cy="588.00" r="2.3" fill="#ff2a00"/>
<circle cx="322.30" cy="590.30" r="2.3" fill="#ff2a00"/>
<circle cx="326.10" cy="599.80" r="2.3" fill="#ff2a00"/>
<circle cx="335.00" cy="599.40" r="2.3" fill="#ff2a00"/>
<circle cx="321.90" cy="611.40" r="2.3" fill="#ff2a00"/>
<circle cx="320.40" cy="633.60" r="2.3" fill="#ff2a00"/>
<circle cx="327.60" cy="648.80" r="2.3" fill="#ff2a00"/>
<circle cx="335.00" cy="675.70" r="2.3" fill="#ff2a00"/>
<circle cx="333.30" cy="661.10" r="2.3" fill="#ff2a00"/>
<circle cx="328.90" cy="617.40" r="2.3" fill="#ff2a00"/>
<circle cx="360.20" cy="639.30" r="2.3" fill="#ff2a00"/>
<circle cx="359.30" cy="631.70" r="2.3" fill="#ff2a00"/>
<circle cx="385.80" cy="659.20" r="2.3" fill="#ff2a00"/>
<circle cx="346.90" cy="668.70" r="2.3" fill="#ff2a00"/>
<circle cx="355.50" cy="668.70" r="2.3" fill="#ff2a00"/>
<circle cx="360.60" cy="652.00" r="2.3" fill="#ff2a00"/>
<circle cx="337.00" cy="593.00" r="2.3" fill="#ff2a00"/>
<circle cx="340.00" cy="595.00" r="2.3" fill="#ff2a00"/>
<circle cx="343.00" cy="594.00" r="2.3" fill="#ff2a00"/>
<circle cx="338.50" cy="597.50" r="2.3" fill="#ff2a00"/>
<circle cx="342.00" cy="599.00" r="2.3" fill="#ff2a00"/>
<circle cx="345.00" cy="597.00" r="2.3" fill="#ff2a00"/>
<circle cx="355.55" cy="633.36" r="2.3" fill="#ff2a00"/>
<circle cx="347.93" cy="618.09" r="2.3" fill="#ff2a00"/>
<circle cx="349.77" cy="654.28" r="2.3" fill="#ff2a00"/>
<circle cx="347.68" cy="648.34" r="2.3" fill="#ff2a00"/>
<circle cx="336.55" cy="659.10" r="2.3" fill="#ff2a00"/>
<circle cx="344.96" cy="652.66" r="2.3" fill="#ff2a00"/>
<circle cx="339.33" cy="659.69" r="2.3" fill="#ff2a00"/>
<circle cx="353.25" cy="626.56" r="2.3" fill="#ff2a00"/>
<circle cx="333.15" cy="632.01" r="2.3" fill="#ff2a00"/>
<circle cx="343.67" cy="607.68" r="2.3" fill="#ff2a00"/>
<circle cx="351.80" cy="616.20" r="2.3" fill="#ff2a00"/>
<circle cx="339.71" cy="652.49" r="2.3" fill="#ff2a00"/>
<circle cx="334.65" cy="614.77" r="2.3" fill="#ff2a00"/>
<circle cx="344.43" cy="648.69" r="2.3" fill="#ff2a00"/>
<circle cx="352.84" cy="646.67" r="2.3" fill="#ff2a00"/>
<circle cx="336.76" cy="637.07" r="2.3" fill="#ff2a00"/>
<circle cx="338.54" cy="649.00" r="2.3" fill="#ff2a00"/>
<circle cx="347.61" cy="636.84" r="2.3" fill="#ff2a00"/>
<circle cx="352.93" cy="639.04" r="2.3" fill="#ff2a00"/>
<circle cx="339.10" cy="628.49" r="2.3" fill="#ff2a00"/>
<circle cx="336.41" cy="656.20" r="2.3" fill="#ff2a00"/>
<circle cx="356.18" cy="636.93" r="2.3" fill="#ff2a00"/>
<circle cx="344.93" cy="635.69" r="2.3" fill="#ff2a00"/>
<circle cx="345.01" cy="630.41" r="2.3" fill="#ff2a00"/>
<circle cx="338.00" cy="633.92" r="2.3" fill="#ff2a00"/>
<circle cx="343.39" cy="624.72" r="2.3" fill="#ff2a00"/>
<circle cx="335.98" cy="642.46" r="2.3" fill="#ff2a00"/>
<circle cx="336.05" cy="619.41" r="2.3" fill="#ff2a00"/>
<circle cx="348.86" cy="625.00" r="2.3" fill="#ff2a00"/>
<circle cx="340.24" cy="642.57" r="2.3" fill="#ff2a00"/>
<circle cx="344.76" cy="615.42" r="2.3" fill="#ff2a00"/>
<circle cx="353.13" cy="642.09" r="2.3" fill="#ff2a00"/>
<circle cx="353.28" cy="619.73" r="2.3" fill="#ff2a00"/>
<circle cx="337.75" cy="611.72" r="2.3" fill="#ff2a00"/>
<circle cx="352.64" cy="630.88" r="2.3" fill="#ff2a00"/>
<circle cx="341.47" cy="646.43" r="2.3" fill="#ff2a00"/>
<circle cx="331.46" cy="617.86" r="2.3" fill="#ff2a00"/>
<circle cx="333.76" cy="608.21" r="2.3" fill="#ff2a00"/>
<circle cx="349.06" cy="651.27" r="2.3" fill="#ff2a00"/>
<circle cx="347.61" cy="642.82" r="2.3" fill="#ff2a00"/>
<circle cx="348.15" cy="639.60" r="2.3" fill="#ff2a00"/>
<circle cx="340.77" cy="611.81" r="2.3" fill="#ff2a00"/>
<circle cx="344.70" cy="641.27" r="2.3" fill="#ff2a00"/>
<circle cx="340.50" cy="622.86" r="2.3" fill="#ff2a00"/>
<circle cx="338.70" cy="606.83" r="2.3" fill="#ff2a00"/>
<circle cx="335.07" cy="650.52" r="2.3" fill="#ff2a00"/>
<circle cx="342.17" cy="634.18" r="2.3" fill="#ff2a00"/>
<circle cx="344.61" cy="661.30" r="2.3" fill="#ff2a00"/>
<circle cx="349.79" cy="633.63" r="2.3" fill="#ff2a00"/>
<circle cx="346.69" cy="612.79" r="2.3" fill="#ff2a00"/>
<circle cx="350.09" cy="620.07" r="2.3" fill="#ff2a00"/>
<circle cx="338.04" cy="631.09" r="2.3" fill="#ff2a00"/>
<circle cx="345.08" cy="610.28" r="2.3" fill="#ff2a00"/>
<circle cx="336.48" cy="626.28" r="2.3" fill="#ff2a00"/>
<circle cx="339.46" cy="638.37" r="2.3" fill="#ff2a00"/>
<circle cx="342.12" cy="627.79" r="2.3" fill="#ff2a00"/>
<circle cx="333.12" cy="623.92" r="2.3" fill="#ff2a00"/>
<circle cx="351.88" cy="623.98" r="2.3" fill="#ff2a00"/>
<circle cx="326.86" cy="624.18" r="2.3" fill="#ff2a00"/>
<circle cx="332.41" cy="645.47" r="2.3" fill="#ff2a00"/>
<circle cx="325.75" cy="631.24" r="2.3" fill="#ff2a00"/>
<circle cx="331.17" cy="630.24" r="2.3" fill="#ff2a00"/>
<circle cx="325.59" cy="639.63" r="2.3" fill="#ff2a00"/>
<circle cx="331.93" cy="619.10" r="2.3" fill="#ff2a00"/>
<circle cx="332.70" cy="635.00" r="2.3" fill="#ff2a00"/>
<circle cx="331.24" cy="609.75" r="2.3" fill="#ff2a00"/>
<circle cx="324.76" cy="610.51" r="2.3" fill="#ff2a00"/>
<circle cx="351.37" cy="685.50" r="2.3" fill="#ff2a00"/>
<circle cx="344.85" cy="684.17" r="2.3" fill="#ff2a00"/>
<circle cx="350.49" cy="682.23" r="2.3" fill="#ff2a00"/>
<circle cx="347.94" cy="682.69" r="2.3" fill="#ff2a00"/>
<circle cx="353.68" cy="684.36" r="2.3" fill="#ff2a00"/>
<circle cx="346.92" cy="685.85" r="2.3" fill="#ff2a00"/>
<circle cx="394.40" cy="595.20" r="2.3" fill="#0a30ff"/>
<circle cx="386.80" cy="599.00" r="2.3" fill="#0a30ff"/>
<circle cx="379.20" cy="603.60" r="2.3" fill="#0a30ff"/>
<circle cx="392.50" cy="602.60" r="2.3" fill="#0a30ff"/>
<circle cx="383.00" cy="609.30" r="2.3" fill="#0a30ff"/>
<circle cx="388.30" cy="608.90" r="2.3" fill="#0a30ff"/>
<circle cx="379.20" cy="612.70" r="2.3" fill="#0a30ff"/>
<circle cx="390.00" cy="620.90" r="2.3" fill="#0a30ff"/>
<circle cx="410.50" cy="605.50" r="2.3" fill="#0a30ff"/>
<circle cx="413.70" cy="621.20" r="2.3" fill="#0a30ff"/>
<circle cx="419.00" cy="633.00" r="2.3" fill="#0a30ff"/>
<circle cx="394.00" cy="634.10" r="2.3" fill="#0a30ff"/>
<circle cx="394.00" cy="645.90" r="2.3" fill="#0a30ff"/>
<circle cx="384.50" cy="646.90" r="2.3" fill="#0a30ff"/>
<circle cx="383.00" cy="637.40" r="2.3" fill="#0a30ff"/>
<circle cx="399.70" cy="657.30" r="2.3" fill="#0a30ff"/>
<circle cx="395.30" cy="660.10" r="2.3" fill="#0a30ff"/>
<circle cx="390.00" cy="664.00" r="2.3" fill="#0a30ff"/>
<circle cx="414.30" cy="660.10" r="2.3" fill="#0a30ff"/>
<circle cx="409.20" cy="678.20" r="2.3" fill="#0a30ff"/>
<circle cx="321.30" cy="675.70" r="2.3" fill="#0a30ff"/>
<circle cx="328.90" cy="673.80" r="2.3" fill="#0a30ff"/>
<circle cx="332.10" cy="637.90" r="2.3" fill="#0a30ff"/>
<circle cx="340.30" cy="617.40" r="2.3" fill="#0a30ff"/>
<circle cx="341.20" cy="625.00" r="2.3" fill="#0a30ff"/>
<circle cx="343.10" cy="633.60" r="2.3" fill="#0a30ff"/>
<circle cx="342.20" cy="643.10" r="2.3" fill="#0a30ff"/>
<circle cx="344.10" cy="651.60" r="2.3" fill="#0a30ff"/>
<circle cx="342.20" cy="655.40" r="2.3" fill="#0a30ff"/>
<circle cx="350.70" cy="646.90" r="2.3" fill="#0a30ff"/>
<circle cx="350.70" cy="658.30" r="2.3" fill="#0a30ff"/>
<circle cx="423.60" cy="598.60" r="2.3" fill="#0a30ff"/>
<circle cx="393.50" cy="632.90" r="2.3" fill="#0a30ff"/>
<circle cx="393.50" cy="657.50" r="2.3" fill="#0a30ff"/>
<circle cx="419.40" cy="632.90" r="2.3" fill="#0a30ff"/>
<circle cx="413.40" cy="620.70" r="2.3" fill="#0a30ff"/>
<circle cx="414.50" cy="660.00" r="2.3" fill="#0a30ff"/>
<circle cx="367.77" cy="646.36" r="2.3" fill="#0a30ff"/>
<circle cx="368.49" cy="668.77" r="2.3" fill="#0a30ff"/>
<circle cx="377.09" cy="637.84" r="2.3" fill="#0a30ff"/>
<circle cx="367.81" cy="656.28" r="2.3" fill="#0a30ff"/>
<circle cx="374.59" cy="686.01" r="2.3" fill="#0a30ff"/>
<circle cx="369.40" cy="640.35" r="2.3" fill="#0a30ff"/>
<circle cx="370.06" cy="673.34" r="2.3" fill="#0a30ff"/>
<circle cx="374.73" cy="640.78" r="2.3" fill="#0a30ff"/>
<circle cx="369.40" cy="644.55" r="2.3" fill="#0a30ff"/>
<circle cx="369.24" cy="676.00" r="2.3" fill="#0a30ff"/>
<circle cx="371.05" cy="662.18" r="2.3" fill="#0a30ff"/>
<circle cx="377.62" cy="657.65" r="2.3" fill="#0a30ff"/>
<circle cx="370.39" cy="684.57" r="2.3" fill="#0a30ff"/>
<circle cx="378.89" cy="648.58" r="2.3" fill="#0a30ff"/>
<circle cx="374.12" cy="689.16" r="2.3" fill="#0a30ff"/>
<circle cx="377.42" cy="651.41" r="2.3" fill="#0a30ff"/>
<circle cx="373.86" cy="660.04" r="2.3" fill="#0a30ff"/>
<circle cx="370.57" cy="691.36" r="2.3" fill="#0a30ff"/>
<circle cx="371.83" cy="678.59" r="2.3" fill="#0a30ff"/>
<circle cx="376.27" cy="666.00" r="2.3" fill="#0a30ff"/>
<circle cx="369.04" cy="636.36" r="2.3" fill="#0a30ff"/>
<circle cx="371.18" cy="643.12" r="2.3" fill="#0a30ff"/>
<circle cx="378.30" cy="660.06" r="2.3" fill="#0a30ff"/>
<circle cx="378.00" cy="680.26" r="2.3" fill="#0a30ff"/>
<circle cx="373.24" cy="656.93" r="2.3" fill="#0a30ff"/>
<circle cx="379.42" cy="664.72" r="2.3" fill="#0a30ff"/>
<circle cx="378.15" cy="646.04" r="2.3" fill="#0a30ff"/>
<circle cx="377.26" cy="653.52" r="2.3" fill="#0a30ff"/>
<circle cx="377.74" cy="639.75" r="2.3" fill="#0a30ff"/>
<circle cx="369.05" cy="680.91" r="2.3" fill="#0a30ff"/>
<circle cx="371.05" cy="646.51" r="2.3" fill="#0a30ff"/>
<circle cx="373.07" cy="673.20" r="2.3" fill="#0a30ff"/>
<circle cx="371.68" cy="671.35" r="2.3" fill="#0a30ff"/>
<circle cx="368.37" cy="652.02" r="2.3" fill="#0a30ff"/>
<circle cx="377.79" cy="669.16" r="2.3" fill="#0a30ff"/>
<circle cx="376.23" cy="641.67" r="2.3" fill="#0a30ff"/>
<circle cx="375.01" cy="645.17" r="2.3" fill="#0a30ff"/>
<circle cx="370.88" cy="648.27" r="2.3" fill="#0a30ff"/>
<circle cx="376.51" cy="647.74" r="2.3" fill="#0a30ff"/>
<circle cx="368.83" cy="632.23" r="2.3" fill="#0a30ff"/>
<circle cx="375.81" cy="672.75" r="2.3" fill="#0a30ff"/>
<circle cx="369.04" cy="634.19" r="2.3" fill="#0a30ff"/>
<circle cx="372.29" cy="630.80" r="2.3" fill="#0a30ff"/>
<circle cx="378.97" cy="654.18" r="2.3" fill="#0a30ff"/>
<circle cx="373.65" cy="668.72" r="2.3" fill="#0a30ff"/>
<circle cx="372.36" cy="627.02" r="2.3" fill="#0a30ff"/>
<circle cx="371.45" cy="668.95" r="2.3" fill="#0a30ff"/>
<circle cx="373.62" cy="678.04" r="2.3" fill="#0a30ff"/>
<circle cx="378.74" cy="662.18" r="2.3" fill="#0a30ff"/>
<circle cx="371.58" cy="659.03" r="2.3" fill="#0a30ff"/>
<circle cx="376.30" cy="681.14" r="2.3" fill="#0a30ff"/>
<circle cx="369.56" cy="688.36" r="2.3" fill="#0a30ff"/>
<circle cx="375.15" cy="639.06" r="2.3" fill="#0a30ff"/>
<circle cx="368.08" cy="642.14" r="2.3" fill="#0a30ff"/>
<circle cx="371.28" cy="687.32" r="2.3" fill="#0a30ff"/>
<circle cx="368.76" cy="685.67" r="2.3" fill="#0a30ff"/>
<circle cx="374.06" cy="663.01" r="2.3" fill="#0a30ff"/>
<circle cx="374.28" cy="643.45" r="2.3" fill="#0a30ff"/>
<circle cx="370.13" cy="663.86" r="2.3" fill="#0a30ff"/>
<circle cx="374.12" cy="631.03" r="2.3" fill="#0a30ff"/>
<circle cx="375.73" cy="674.69" r="2.3" fill="#0a30ff"/>
<circle cx="371.96" cy="665.07" r="2.3" fill="#0a30ff"/>
<circle cx="369.59" cy="656.89" r="2.3" fill="#0a30ff"/>
<circle cx="374.40" cy="637.46" r="2.3" fill="#0a30ff"/>
<circle cx="374.38" cy="647.92" r="2.3" fill="#0a30ff"/>
<circle cx="375.72" cy="635.55" r="2.3" fill="#0a30ff"/>
<circle cx="373.11" cy="653.15" r="2.3" fill="#0a30ff"/>
<circle cx="377.90" cy="682.43" r="2.3" fill="#0a30ff"/>
<circle cx="372.62" cy="685.68" r="2.3" fill="#0a30ff"/>
<circle cx="376.43" cy="685.41" r="2.3" fill="#0a30ff"/>
<circle cx="367.68" cy="671.86" r="2.3" fill="#0a30ff"/>
<circle cx="370.98" cy="652.10" r="2.3" fill="#0a30ff"/>
<circle cx="370.07" cy="630.52" r="2.3" fill="#0a30ff"/>
<circle cx="375.65" cy="683.19" r="2.3" fill="#0a30ff"/>
<circle cx="368.28" cy="678.30" r="2.3" fill="#0a30ff"/>
<circle cx="368.61" cy="661.48" r="2.3" fill="#0a30ff"/>
<circle cx="372.16" cy="649.53" r="2.3" fill="#0a30ff"/>
<circle cx="374.61" cy="629.03" r="2.3" fill="#0a30ff"/>
<circle cx="373.14" cy="639.63" r="2.3" fill="#0a30ff"/>
<circle cx="376.05" cy="687.90" r="2.3" fill="#0a30ff"/>
<circle cx="375.64" cy="678.17" r="2.3" fill="#0a30ff"/>
<circle cx="373.00" cy="675.54" r="2.3" fill="#0a30ff"/>
<circle cx="373.57" cy="681.80" r="2.3" fill="#0a30ff"/>
<circle cx="375.90" cy="660.35" r="2.3" fill="#0a30ff"/>
<circle cx="367.23" cy="658.74" r="2.3" fill="#0a30ff"/>
<circle cx="363.60" cy="679.72" r="2.3" fill="#0a30ff"/>
<circle cx="354.67" cy="687.57" r="2.3" fill="#0a30ff"/>
<circle cx="370.58" cy="681.95" r="2.3" fill="#0a30ff"/>
<circle cx="382.16" cy="675.24" r="2.3" fill="#0a30ff"/>
<circle cx="348.60" cy="676.84" r="2.3" fill="#0a30ff"/>
<circle cx="343.20" cy="676.92" r="2.3" fill="#0a30ff"/>
<circle cx="373.30" cy="681.56" r="2.3" fill="#0a30ff"/>
<circle cx="354.77" cy="682.95" r="2.3" fill="#0a30ff"/>
<circle cx="349.31" cy="685.19" r="2.3" fill="#0a30ff"/>
<circle cx="366.46" cy="686.75" r="2.3" fill="#0a30ff"/>
<circle cx="361.43" cy="676.56" r="2.3" fill="#0a30ff"/>
<circle cx="380.69" cy="686.15" r="2.3" fill="#0a30ff"/>
<circle cx="352.95" cy="675.57" r="2.3" fill="#0a30ff"/>
<circle cx="369.70" cy="675.32" r="2.3" fill="#0a30ff"/>
<circle cx="365.00" cy="690.51" r="2.3" fill="#0a30ff"/>
<circle cx="392.02" cy="683.44" r="2.3" fill="#0a30ff"/>
<circle cx="374.79" cy="671.29" r="2.3" fill="#0a30ff"/>
<circle cx="358.85" cy="685.28" r="2.3" fill="#0a30ff"/>
<circle cx="385.95" cy="682.99" r="2.3" fill="#0a30ff"/>
<circle cx="387.09" cy="680.18" r="2.3" fill="#0a30ff"/>
<circle cx="361.43" cy="688.55" r="2.3" fill="#0a30ff"/>
<circle cx="350.55" cy="682.09" r="2.3" fill="#0a30ff"/>
<circle cx="349.52" cy="674.48" r="2.3" fill="#0a30ff"/>
<circle cx="352.15" cy="680.29" r="2.3" fill="#0a30ff"/>
<circle cx="357.04" cy="679.84" r="2.3" fill="#0a30ff"/>
<circle cx="385.86" cy="674.50" r="2.3" fill="#0a30ff"/>
<circle cx="376.95" cy="677.98" r="2.3" fill="#0a30ff"/>
<circle cx="378.19" cy="675.91" r="2.3" fill="#0a30ff"/>
<circle cx="389.70" cy="677.91" r="2.3" fill="#0a30ff"/>
<circle cx="368.00" cy="671.21" r="2.3" fill="#0a30ff"/>
<circle cx="371.96" cy="670.70" r="2.3" fill="#0a30ff"/>
<circle cx="378.72" cy="684.66" r="2.3" fill="#0a30ff"/>
<circle cx="356.19" cy="677.59" r="2.3" fill="#0a30ff"/>
<circle cx="342.28" cy="683.87" r="2.3" fill="#0a30ff"/>
<circle cx="370.43" cy="687.79" r="2.3" fill="#0a30ff"/>
<circle cx="352.24" cy="685.16" r="2.3" fill="#0a30ff"/>
<circle cx="377.47" cy="682.17" r="2.3" fill="#0a30ff"/>
<circle cx="343.84" cy="680.90" r="2.3" fill="#0a30ff"/>
<circle cx="357.93" cy="675.57" r="2.3" fill="#0a30ff"/>
<circle cx="359.86" cy="682.68" r="2.3" fill="#0a30ff"/>
<circle cx="348.06" cy="681.16" r="2.3" fill="#0a30ff"/>
<circle cx="366.67" cy="684.30" r="2.3" fill="#0a30ff"/>
<circle cx="379.95" cy="681.75" r="2.3" fill="#0a30ff"/>
<circle cx="346.32" cy="685.51" r="2.3" fill="#0a30ff"/>
<circle cx="382.42" cy="678.63" r="2.3" fill="#0a30ff"/>
<circle cx="370.51" cy="679.25" r="2.3" fill="#0a30ff"/>
<circle cx="375.81" cy="675.08" r="2.3" fill="#0a30ff"/>
<circle cx="371.45" cy="690.70" r="2.3" fill="#0a30ff"/>
<circle cx="373.84" cy="678.73" r="2.3" fill="#0a30ff"/>
<circle cx="373.12" cy="686.84" r="2.3" fill="#0a30ff"/>
<circle cx="373.52" cy="676.03" r="2.3" fill="#0a30ff"/>
<circle cx="387.42" cy="676.81" r="2.3" fill="#0a30ff"/>
<circle cx="366.18" cy="679.12" r="2.3" fill="#0a30ff"/>
<circle cx="375.16" cy="683.71" r="2.3" fill="#0a30ff"/>
<circle cx="341.54" cy="674.62" r="2.3" fill="#0a30ff"/>
<circle cx="345.90" cy="677.37" r="2.3" fill="#0a30ff"/>
<circle cx="368.93" cy="690.95" r="2.3" fill="#0a30ff"/>
<circle cx="366.54" cy="675.15" r="2.3" fill="#0a30ff"/>
<circle cx="382.48" cy="681.26" r="2.3" fill="#0a30ff"/>
<circle cx="386.25" cy="685.66" r="2.3" fill="#0a30ff"/>
<circle cx="356.23" cy="685.29" r="2.3" fill="#0a30ff"/>
<circle cx="361.87" cy="684.43" r="2.3" fill="#0a30ff"/>
<circle cx="379.57" cy="671.84" r="2.3" fill="#0a30ff"/>
<circle cx="375.01" cy="689.51" r="2.3" fill="#0a30ff"/>
<circle cx="360.13" cy="679.44" r="2.3" fill="#0a30ff"/>
<circle cx="341.47" cy="678.95" r="2.3" fill="#0a30ff"/>
<circle cx="357.50" cy="688.03" r="2.3" fill="#0a30ff"/>
<circle cx="381.99" cy="684.13" r="2.3" fill="#0a30ff"/>
<circle cx="379.32" cy="679.20" r="2.3" fill="#0a30ff"/>
<circle cx="351.51" cy="677.62" r="2.3" fill="#0a30ff"/>
<circle cx="386.28" cy="675.10" r="2.3" fill="#0a30ff"/>
<circle cx="394.83" cy="676.12" r="2.3" fill="#0a30ff"/>
<circle cx="390.77" cy="676.45" r="2.3" fill="#0a30ff"/>
<circle cx="399.85" cy="675.15" r="2.3" fill="#0a30ff"/>
<circle cx="384.28" cy="677.95" r="2.3" fill="#0a30ff"/>
<circle cx="402.02" cy="677.59" r="2.3" fill="#0a30ff"/>
<circle cx="387.64" cy="678.70" r="2.3" fill="#0a30ff"/>
<line x1="432.00" y1="597.90" x2="424.00" y2="597.90" stroke="#000" stroke-width="1.0" shape-rendering="crispEdges"/>
<line x1="432.00" y1="611.20" x2="410.60" y2="604.90" stroke="#000" stroke-width="1.2"/>
<line x1="432.70" y1="624.20" x2="419.70" y2="632.90" stroke="#000" stroke-width="1.2"/>
<line x1="431.00" y1="649.40" x2="394.20" y2="632.90" stroke="#000" stroke-width="1.2"/>
<line x1="429.20" y1="663.40" x2="394.20" y2="657.50" stroke="#000" stroke-width="1.2"/>
<text transform="translate(435.20,601.79) scale(1,1.06)" font-size="10.80">PE 18:1_20:5</text>
<text transform="translate(435.20,615.09) scale(1,1.06)" font-size="10.80">PE 18:0_22:3</text>
<text transform="translate(433.80,628.09) scale(1,1.06)" font-size="10.80">PE 18:2_20:4</text>
<text transform="translate(432.00,653.29) scale(1,1.06)" font-size="10.80">PE 18:2_20:3</text>
<text transform="translate(430.30,667.29) scale(1,1.06)" font-size="10.80">PE 18:1_22:5</text>
</svg></body></html>
